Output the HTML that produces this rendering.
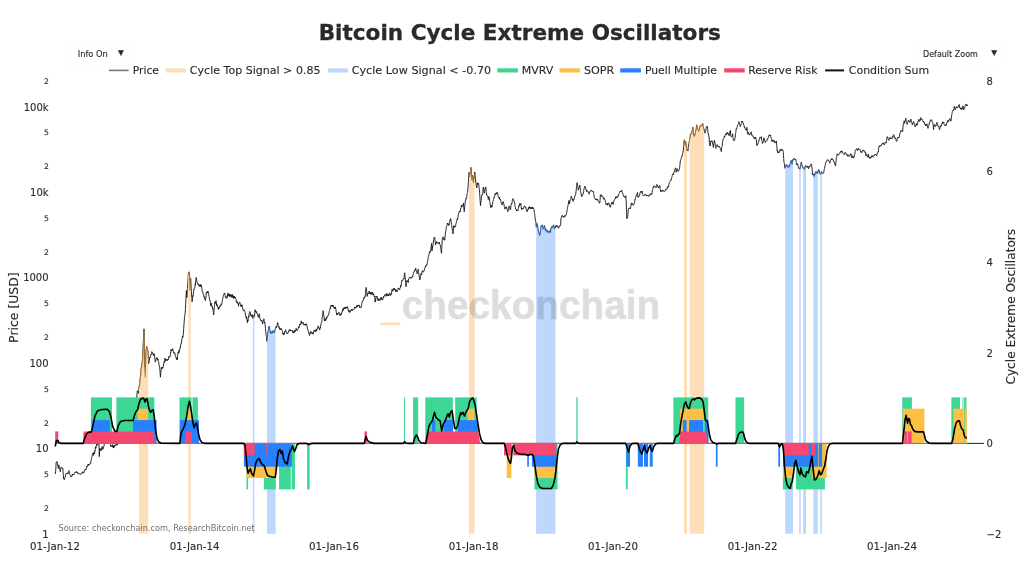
<!DOCTYPE html>
<html lang="en"><head><meta charset="utf-8"><title>Bitcoin Cycle Extreme Oscillators</title>
<style>html,body{margin:0;padding:0;background:#fff}svg{display:block}</style></head>
<body>
<svg width="1024" height="580" viewBox="0 0 1024 580">
<rect width="1024" height="580" fill="#fff"/>
<polyline id="price" points="55.2,474 55.4,473.1 55.6,471.8 55.8,468.4 56,465.1 56.2,462.1 56.3,462.2 56.5,461.7 56.7,461.5 56.9,461.5 57.1,461.8 57.3,462.1 57.5,463.3 57.7,465.5 57.9,466.4 58.1,467.4 58.3,468.5 58.4,467.4 58.6,466.4 58.8,464.9 59,465.9 59.2,466.6 59.4,467.5 59.6,468.1 59.8,469.3 60,470 60.2,470.7 60.4,471.8 60.5,470.2 60.7,469.1 60.9,467.7 61.1,467.2 61.3,467.7 61.5,468 61.7,468.1 61.9,467.9 62.1,467.8 62.3,468.1 62.5,468.7 62.6,469 62.8,468.5 63,471.3 63.2,473.5 63.4,475.6 63.6,478.7 63.8,478.8 64,478.2 64.2,479.3 64.4,479.6 64.6,478.9 64.7,478.6 64.9,477.6 65.1,477 65.3,477 65.5,475.8 65.7,474.8 65.9,474.2 66.1,473.4 66.3,473.1 66.5,472.9 66.7,473.5 66.8,473.1 67,473.3 67.2,473.5 67.4,474 67.6,474 67.8,473.7 68,472.6 68.2,473.1 68.4,473.3 68.6,472.7 68.8,471.4 68.9,470.6 69.1,471.1 69.3,471.8 69.5,472.4 69.7,473.5 69.9,474.7 70.1,475 70.3,475.1 70.5,475.7 70.7,476.3 70.9,476.8 71.1,476.7 71.2,477.1 71.4,476.6 71.6,476 71.8,476.5 72,475.6 72.2,474.8 72.4,474.2 72.6,475 72.8,475 73,474.3 73.2,474.9 73.3,474.8 73.5,474.2 73.7,474.8 73.9,473.9 74.1,473.6 74.3,473.6 74.5,473.4 74.7,473 74.9,472.9 75.1,472.2 75.3,472.5 75.4,472.7 75.6,472.1 75.8,472 76,472.4 76.2,471.8 76.4,471.2 76.6,471.6 76.8,472.4 77,472.6 77.2,472.8 77.4,473.1 77.5,472.5 77.7,473.2 77.9,472.7 78.1,473.5 78.3,474 78.5,473.9 78.7,473.6 78.9,473.4 79.1,473.5 79.3,473.7 79.5,473.9 79.6,473.9 79.8,474.2 80,474.3 80.2,474.3 80.4,474.6 80.6,474.4 80.8,474.4 81,473.6 81.2,473.4 81.4,473.5 81.6,473.6 81.7,473.5 81.9,472.9 82.1,473 82.3,472.7 82.5,471.7 82.7,472.9 82.9,473.3 83.1,473.1 83.3,472.8 83.5,472.6 83.7,472.7 83.8,472.3 84,472 84.2,472.2 84.4,470.6 84.6,470 84.8,469.9 85,469.6 85.2,469.3 85.4,469 85.6,470 85.8,469.9 85.9,469 86.1,469.2 86.3,468.9 86.5,468 86.7,467.2 86.9,466 87.1,466.6 87.3,466.4 87.5,466.2 87.7,465.5 87.9,464.6 88,465.7 88.2,464.7 88.4,465.1 88.6,464.4 88.8,464.9 89,464.8 89.2,464.3 89.4,464.4 89.6,464.4 89.8,464 90,464 90.1,464.1 90.3,463.4 90.5,462.9 90.7,463.2 90.9,460.9 91.1,460.7 91.3,459.4 91.5,458.7 91.7,457.8 91.9,456.7 92.1,455.7 92.2,454.6 92.4,454.5 92.6,454.5 92.8,453.4 93,453 93.2,454.1 93.4,455.5 93.6,454.2 93.8,453.4 94,451.9 94.2,452.8 94.3,452.8 94.5,453.9 94.7,452.6 94.9,450.4 95.1,450.8 95.3,448.7 95.5,447.2 95.7,446.8 95.9,448.3 96.1,446.4 96.3,445.9 96.4,446 96.6,445.1 96.8,445.1 97,443.9 97.2,445.3 97.4,444.5 97.6,443.4 97.8,442.2 98,442.8 98.2,442.3 98.4,440 98.5,438.6 98.7,437.2 98.9,441.8 99.1,448.1 99.3,456.6 99.5,451.7 99.7,448.3 99.9,448.1 100.1,448.3 100.3,449.6 100.5,450.2 100.6,449.9 100.8,450.5 101,449.7 101.2,450.4 101.4,449.9 101.6,449 101.8,447.9 102,448 102.2,446.4 102.4,447.7 102.6,448.1 102.8,449.5 102.9,447.7 103.1,448.3 103.3,447.7 103.5,447.2 103.7,446.6 103.9,446.6 104.1,445.7 104.3,443.2 104.5,442.5 104.7,441.7 104.9,440.3 105,440.3 105.2,441.3 105.4,441.6 105.6,440.2 105.8,441.6 106,441.9 106.2,440.6 106.4,439.5 106.6,439.2 106.8,438.1 107,437.7 107.1,438.6 107.3,439.9 107.5,440.3 107.7,438.9 107.9,439 108.1,439.5 108.3,439.8 108.5,440.9 108.7,440.5 108.9,441.3 109.1,440.4 109.2,442.4 109.4,441.6 109.6,441.7 109.8,443.3 110,442 110.2,441.8 110.4,444.5 110.6,445.9 110.8,446 111,446.9 111.2,446.5 111.3,446.1 111.5,445.8 111.7,445.9 111.9,445 112.1,444.7 112.3,444.7 112.5,447.2 112.7,446.7 112.9,445.7 113.1,446.4 113.3,447.3 113.4,445.7 113.6,447.9 113.8,447.9 114,445.8 114.2,447.1 114.4,446.8 114.6,445.3 114.8,445.8 115,445.6 115.2,445.1 115.4,445.8 115.5,445.8 115.7,445.3 115.9,444.2 116.1,444.1 116.3,444.1 116.5,445 116.7,445.1 116.9,444.1 117.1,443.8 117.3,444.5 117.5,445.1 117.6,442.2 117.8,440.9 118,440 118.2,442.5 118.4,441.8 118.6,441.2 118.8,439.3 119,438.7 119.2,438.7 119.4,438 119.6,439.9 119.7,438.7 119.9,438.2 120.1,438.8 120.3,437.3 120.5,435.3 120.7,436.6 120.9,437.2 121.1,437 121.3,437 121.5,437.6 121.7,438.8 121.8,436.8 122,435.9 122.2,437.3 122.4,438.8 122.6,437.3 122.8,436.4 123,434.7 123.2,434.1 123.4,435.2 123.6,435.1 123.8,437.4 123.9,438.3 124.1,438.4 124.3,437.9 124.5,438.8 124.7,439 124.9,438.6 125.1,438.2 125.3,437.7 125.5,437.5 125.7,437.9 125.9,437.2 126,436.6 126.2,437 126.4,437.2 126.6,436.7 126.8,436.3 127,435.7 127.2,435.2 127.4,434.6 127.6,434.2 127.8,435 128,433.8 128.1,431.9 128.3,430.6 128.5,429.9 128.7,428.6 128.9,428.8 129.1,429.9 129.3,429 129.5,429.1 129.7,427.5 129.9,427 130.1,428 130.2,427.4 130.4,424.1 130.6,422.8 130.8,422.6 131,421.7 131.2,420.9 131.4,420.2 131.6,419.8 131.8,418 132,417.1 132.2,416.8 132.3,416 132.5,414.1 132.7,412.8 132.9,411.6 133.1,412.4 133.3,412.4 133.5,411.4 133.7,411.5 133.9,410.4 134.1,409.8 134.3,408.8 134.5,409.1 134.6,406.5 134.8,405.2 135,405.4 135.2,405.3 135.4,402.7 135.6,403.1 135.8,402.2 136,401.2 136.2,401.2 136.4,402.4 136.6,400.4 136.7,398.2 136.9,395.3 137.1,392.7 137.3,390.9 137.5,390.8 137.7,391 137.9,391.6 138.1,392.3 138.3,393.3 138.5,393.3 138.7,392.1 138.8,390.4 139,388.1 139.2,387.3 139.4,385.4 139.6,385.2 139.8,383.5 140,380.6 140.2,378.5 140.4,377 140.6,375.7 140.8,375.6 140.9,372.2 141.1,370.1 141.3,367.4 141.5,366.8 141.7,365.6 141.9,366 142.1,363.8 142.3,361.4 142.5,359.7 142.7,356.1 142.9,351.8 143,349.9 143.2,346 143.4,341.4 143.6,336.3 143.8,332 144,328.9 144.2,346.1 144.4,362.9 144.6,366.3 144.8,368.8 145,371.8 145.1,377.2 145.3,371.4 145.5,366.1 145.7,360.9 145.9,354.6 146.1,352 146.3,348.9 146.5,348 146.7,346.6 146.9,347.2 147.1,348 147.2,348.9 147.4,349.5 147.6,350.8 147.8,350.7 148,354.5 148.2,358.8 148.4,363.6 148.6,362.2 148.8,363.3 149,362.6 149.2,360.9 149.3,360.8 149.5,358.9 149.7,357.1 149.9,357.9 150.1,357.6 150.3,357.3 150.5,356.3 150.7,355.1 150.9,354.5 151.1,354.8 151.3,354.4 151.4,353.9 151.6,352.5 151.8,351.7 152,351.8 152.2,352.6 152.4,352.4 152.6,352.6 152.8,354 153,354.3 153.2,355.1 153.4,355.2 153.5,354.9 153.7,355.6 153.9,353.5 154.1,354.8 154.3,354.7 154.5,355.7 154.7,355.6 154.9,359.1 155.1,360.9 155.3,361.7 155.5,362.1 155.6,360.7 155.8,360.6 156,359.5 156.2,358.9 156.4,358.1 156.6,357.8 156.8,358.2 157,357.8 157.2,359.1 157.4,358.1 157.6,359.4 157.7,360.2 157.9,359.1 158.1,360.4 158.3,361.4 158.5,361.3 158.7,362.3 158.9,364.2 159.1,365 159.3,365.5 159.5,365.8 159.7,367.6 159.8,369.2 160,370.8 160.2,374.1 160.4,377.2 160.6,375.8 160.8,372.6 161,371.5 161.2,369 161.4,367.6 161.6,368.6 161.8,368.2 161.9,367.1 162.1,367.4 162.3,368.4 162.5,367.8 162.7,368.2 162.9,368.1 163.1,366.9 163.3,366 163.5,366 163.7,363.2 163.9,362.7 164.1,361.4 164.2,361.5 164.4,361.1 164.6,362.4 164.8,360 165,358.1 165.2,358.9 165.4,359.9 165.6,361.1 165.8,359.6 166,359.7 166.2,359.5 166.3,359.5 166.5,359.3 166.7,360.1 166.9,359.8 167.1,360.9 167.3,360.7 167.5,360.1 167.7,359.3 167.9,359.2 168.1,359.8 168.3,359.4 168.4,359.5 168.6,357.6 168.8,356.4 169,356.2 169.2,356.3 169.4,356.7 169.6,357.3 169.8,357.3 170,356.7 170.2,355.8 170.4,354.9 170.5,352.4 170.7,352.8 170.9,352.4 171.1,349.2 171.3,350.8 171.5,351 171.7,350.7 171.9,350.5 172.1,350 172.3,350.1 172.5,349.7 172.6,349.6 172.8,348.7 173,350.6 173.2,351.4 173.4,351.3 173.6,352.3 173.8,353.3 174,352.6 174.2,353.2 174.4,353.1 174.6,352.8 174.7,353.1 174.9,353.1 175.1,353.7 175.3,355.7 175.5,356.3 175.7,356.4 175.9,357.5 176.1,358.1 176.3,357.9 176.5,359.3 176.7,359.2 176.8,357.8 177,359 177.2,359.3 177.4,360 177.6,356.3 177.8,353.7 178,352.4 178.2,352.7 178.4,352.3 178.6,351.9 178.8,353.3 178.9,351.4 179.1,350.1 179.3,351.5 179.5,350.3 179.7,350 179.9,349.1 180.1,347.5 180.3,347.9 180.5,346.9 180.7,344.1 180.9,343.5 181,343.4 181.2,343.5 181.4,343.6 181.6,342 181.8,339.1 182,338.7 182.2,338.4 182.4,336.1 182.6,336.7 182.8,337.4 183,336.8 183.1,336.3 183.3,334.1 183.5,332.1 183.7,328.6 183.9,325.1 184.1,323.2 184.3,320.2 184.5,317.5 184.7,315.7 184.9,314.4 185.1,313.1 185.2,312.1 185.4,309.7 185.6,304.7 185.8,301.5 186,297.1 186.2,294.3 186.4,290.7 186.6,294.6 186.8,297.7 187,295.4 187.2,292.7 187.3,289.7 187.5,288.5 187.7,285.8 187.9,282.4 188.1,277.9 188.3,275 188.5,273 188.7,272.9 188.9,272.6 189.1,273.1 189.3,272.1 189.4,272.3 189.6,278.5 189.8,283.6 190,290.7 190.2,287.3 190.4,283.2 190.6,278.2 190.8,281.7 191,284.6 191.2,288.5 191.4,291.5 191.5,293 191.7,297 191.9,297.8 192.1,301.8 192.3,300.2 192.5,298.5 192.7,295.9 192.9,295.7 193.1,296.3 193.3,294.1 193.5,291.8 193.6,291.5 193.8,289.1 194,289.2 194.2,289.3 194.4,288.6 194.6,288.6 194.8,287.2 195,286 195.2,283.8 195.4,284.9 195.6,281.5 195.8,279.4 195.9,279.1 196.1,277.5 196.3,278.2 196.5,279 196.7,280.2 196.9,281.7 197.1,283 197.3,282.9 197.5,283.5 197.7,283.8 197.9,284.4 198,283.9 198.2,283.7 198.4,284.3 198.6,284 198.8,284.5 199,286.1 199.2,285 199.4,284.9 199.6,286 199.8,285.1 200,285 200.1,286.8 200.3,285.3 200.5,285.2 200.7,284.5 200.9,284.4 201.1,284.8 201.3,286.6 201.5,285.8 201.7,287.1 201.9,288.8 202.1,289.8 202.2,291.1 202.4,291.8 202.6,292 202.8,291.8 203,293.8 203.2,294.1 203.4,294.5 203.6,294.3 203.8,295.8 204,297 204.2,296.6 204.3,298 204.5,298.4 204.7,297.8 204.9,298.9 205.1,298.8 205.3,300.7 205.5,299.6 205.7,298.8 205.9,297.9 206.1,295.8 206.3,292.5 206.4,292.4 206.6,292.8 206.8,292.2 207,293.1 207.2,292.5 207.4,291.8 207.6,292 207.8,291.3 208,292.8 208.2,291.8 208.4,293.3 208.5,293.9 208.7,294.3 208.9,296.1 209.1,296.5 209.3,297.8 209.5,299.5 209.7,300.3 209.9,300 210.1,301.3 210.3,302.2 210.5,302.3 210.6,303.3 210.8,306 211,304.7 211.2,303 211.4,305.6 211.6,306.3 211.8,306.4 212,306 212.2,305.9 212.4,306.7 212.6,308.4 212.7,308.9 212.9,308.4 213.1,310.1 213.3,311.7 213.5,312.3 213.7,314.9 213.9,312.6 214.1,310.5 214.3,307.4 214.5,305.6 214.7,303.9 214.8,301.8 215,302.1 215.2,303.1 215.4,303.5 215.6,303 215.8,302.1 216,300.7 216.2,301.9 216.4,302.6 216.6,305.5 216.8,303.9 216.9,305 217.1,305.3 217.3,305.1 217.5,306.8 217.7,306.7 217.9,306.8 218.1,308.8 218.3,308.6 218.5,307.5 218.7,309.5 218.9,308.8 219,308.7 219.2,308.3 219.4,307.9 219.6,306.6 219.8,306.7 220,305.8 220.2,306.2 220.4,305.4 220.6,306.1 220.8,306.2 221,304.4 221.1,303.8 221.3,304 221.5,304.5 221.7,304.6 221.9,303.8 222.1,302.2 222.3,301.1 222.5,299.9 222.7,299.3 222.9,297.3 223.1,297 223.2,296.9 223.4,295.4 223.6,294.6 223.8,294.4 224,294.4 224.2,294.1 224.4,292.9 224.6,293.1 224.8,294.8 225,294.9 225.2,295.3 225.3,296.8 225.5,296.5 225.7,297.3 225.9,298.2 226.1,297.9 226.3,297.1 226.5,297.8 226.7,297.4 226.9,298.3 227.1,295.9 227.3,296.5 227.5,295.3 227.6,295.9 227.8,295.1 228,292.9 228.2,295.5 228.4,296 228.6,295.5 228.8,295.6 229,296.3 229.2,294.1 229.4,294.1 229.6,295.7 229.7,294.8 229.9,296.5 230.1,295.3 230.3,295.9 230.5,295.7 230.7,294.4 230.9,294.3 231.1,295.6 231.3,297.4 231.5,296.1 231.7,295.3 231.8,296.1 232,295.2 232.2,295 232.4,294.5 232.6,297.1 232.8,297.6 233,297 233.2,296.5 233.4,295.8 233.6,298.5 233.8,298.6 233.9,298.4 234.1,296 234.3,297.2 234.5,297.8 234.7,298 234.9,297.3 235.1,298 235.3,297.1 235.5,298.2 235.7,298.3 235.9,299.1 236,299.3 236.2,300.3 236.4,302.3 236.6,301.5 236.8,301.5 237,302.4 237.2,302.5 237.4,301.8 237.6,303.2 237.8,303.6 238,303.4 238.1,303.1 238.3,303.8 238.5,306.3 238.7,304.5 238.9,303.6 239.1,303.1 239.3,302.8 239.5,302 239.7,302 239.9,302.5 240.1,303.2 240.2,303.8 240.4,304.5 240.6,305.7 240.8,305 241,306.3 241.2,305.7 241.4,306.7 241.6,306.3 241.8,304.9 242,304.7 242.2,305.9 242.3,306.2 242.5,306.5 242.7,308.7 242.9,309.7 243.1,309.9 243.3,310.8 243.5,311.1 243.7,310.8 243.9,310.4 244.1,309.9 244.3,309.7 244.4,310.4 244.6,310.8 244.8,311.5 245,312.2 245.2,312.8 245.4,315 245.6,315.7 245.8,316.1 246,317.6 246.2,318 246.4,317.9 246.5,318.4 246.7,316.7 246.9,319.8 247.1,320.4 247.3,322.7 247.5,322.1 247.7,319.8 247.9,321.2 248.1,320 248.3,318.3 248.5,317.5 248.6,315.9 248.8,317.1 249,315.1 249.2,313.6 249.4,312.5 249.6,312 249.8,311.5 250,312.2 250.2,312.2 250.4,312.9 250.6,315.4 250.7,315.7 250.9,315.7 251.1,315.1 251.3,316.2 251.5,316.4 251.7,316.3 251.9,316.7 252.1,316 252.3,314.5 252.5,315.9 252.7,318.4 252.8,318.1 253,317.1 253.2,316.6 253.4,316.3 253.6,317.5 253.8,317.3 254,315.4 254.2,315.4 254.4,316.3 254.6,316.4 254.8,312.9 254.9,309.9 255.1,309.7 255.3,310.8 255.5,310.9 255.7,312 255.9,311 256.1,311.4 256.3,312.8 256.5,311.8 256.7,312.8 256.9,312.9 257.1,313.2 257.2,313.9 257.4,313.9 257.6,313.9 257.8,315.1 258,316.6 258.2,317.2 258.4,317.3 258.6,316.6 258.8,315.9 259,314.6 259.2,313.8 259.3,313.9 259.5,315.2 259.7,318 259.9,318.8 260.1,318.9 260.3,319 260.5,319.7 260.7,320.5 260.9,320.2 261.1,320.8 261.3,320.6 261.4,320.7 261.6,321.1 261.8,320.3 262,321.2 262.2,321.9 262.4,323 262.6,324.1 262.8,322.8 263,321.2 263.2,321.5 263.4,321.2 263.5,320.3 263.7,319.7 263.9,318.8 264.1,320.3 264.3,322 264.5,322.5 264.7,322 264.9,322.9 265.1,324.7 265.3,326.1 265.5,328.5 265.6,331.1 265.8,331.9 266,334.3 266.2,336.2 266.4,336.4 266.6,337.5 266.8,339.1 267,341.5 267.2,339.8 267.4,337.2 267.6,335.4 267.7,333.6 267.9,332.6 268.1,331.4 268.3,330.7 268.5,329.5 268.7,327.7 268.9,327.9 269.1,327.1 269.3,326.1 269.5,328 269.7,329.7 269.8,330.6 270,330.6 270.2,331.6 270.4,332.8 270.6,333.8 270.8,332.2 271,332 271.2,331.8 271.4,332.5 271.6,332.4 271.8,333 271.9,332.8 272.1,332.3 272.3,332.1 272.5,331.7 272.7,332.2 272.9,330.9 273.1,331.2 273.3,332.2 273.5,332 273.7,332.2 273.9,332.5 274,332.4 274.2,331.8 274.4,332.3 274.6,332 274.8,330.5 275,329.6 275.2,329.3 275.4,328.8 275.6,328.5 275.8,328.2 276,327 276.1,326.4 276.3,327.6 276.5,327 276.7,327 276.9,325.9 277.1,325.7 277.3,324.9 277.5,322.6 277.7,322.8 277.9,323.3 278.1,324.1 278.2,325.6 278.4,326.7 278.6,326.1 278.8,326.3 279,327.4 279.2,328.3 279.4,327.5 279.6,328.7 279.8,329.6 280,330 280.2,329.6 280.3,328.8 280.5,328.6 280.7,329.2 280.9,329.7 281.1,328.9 281.3,328.5 281.5,329.4 281.7,329.7 281.9,329.7 282.1,329.9 282.3,330.6 282.4,331.8 282.6,332.5 282.8,334 283,333.3 283.2,333.1 283.4,334.3 283.6,333.5 283.8,333.1 284,334.8 284.2,333.7 284.4,332.9 284.5,331.3 284.7,332.1 284.9,331.6 285.1,331.2 285.3,330.9 285.5,330.7 285.7,329.8 285.9,330.8 286.1,331.7 286.3,332.7 286.5,333.1 286.6,333.5 286.8,333.2 287,332.9 287.2,332.9 287.4,333.4 287.6,333.7 287.8,332.9 288,332.3 288.2,332.2 288.4,332.4 288.6,331.2 288.8,331.6 288.9,331 289.1,330.1 289.3,330.3 289.5,329.7 289.7,330.5 289.9,329.8 290.1,329.6 290.3,330.8 290.5,330.3 290.7,331 290.9,330 291,330.5 291.2,330.6 291.4,330.4 291.6,330.7 291.8,330.5 292,330.9 292.2,330.4 292.4,330.5 292.6,330.3 292.8,332.5 293,331.6 293.1,331.7 293.3,333.1 293.5,333 293.7,332.7 293.9,331.9 294.1,332.8 294.3,331.7 294.5,332 294.7,330.2 294.9,330.4 295.1,330 295.2,330.4 295.4,331.4 295.6,330.6 295.8,330 296,328.9 296.2,328.4 296.4,328.9 296.6,329.9 296.8,330.2 297,330.4 297.2,330.8 297.3,330 297.5,329.5 297.7,329.5 297.9,329.1 298.1,328.9 298.3,328.5 298.5,327.6 298.7,326.6 298.9,326.9 299.1,327.7 299.3,326.2 299.4,325.6 299.6,324.3 299.8,325.1 300,324.9 300.2,324.4 300.4,325 300.6,325 300.8,323.9 301,322.6 301.2,320.9 301.4,321.8 301.5,323.1 301.7,322.9 301.9,322.4 302.1,322.4 302.3,323.6 302.5,323.2 302.7,322.8 302.9,322.6 303.1,323.2 303.3,323.2 303.5,322.8 303.6,323.4 303.8,325 304,324.9 304.2,324.7 304.4,324.8 304.6,324.3 304.8,324.9 305,325.1 305.2,325.5 305.4,325.2 305.6,324.1 305.7,324.4 305.9,323.9 306.1,323.7 306.3,324.1 306.5,324.6 306.7,324.2 306.9,325.4 307.1,326.4 307.3,328.2 307.5,328.9 307.7,328.8 307.8,329.4 308,330.1 308.2,331.2 308.4,331.5 308.6,332.9 308.8,332.5 309,333.2 309.2,334.4 309.4,335.4 309.6,335.5 309.8,334.4 309.9,333.1 310.1,333.7 310.3,332.5 310.5,331.4 310.7,331.3 310.9,332 311.1,332.3 311.3,332.5 311.5,332 311.7,332 311.9,333.3 312,332.8 312.2,333.7 312.4,332.8 312.6,333.4 312.8,333.7 313,334.1 313.2,334.2 313.4,332.9 313.6,332 313.8,331.1 314,330.3 314.1,331.1 314.3,331 314.5,330.9 314.7,331.2 314.9,330.3 315.1,330.4 315.3,330.5 315.5,330.8 315.7,331.9 315.9,331 316.1,329.5 316.2,328.9 316.4,329.1 316.6,330.7 316.8,330.6 317,329.7 317.2,329.5 317.4,328.8 317.6,327.7 317.8,326.9 318,327.2 318.2,326.4 318.3,325.9 318.5,327.1 318.7,327.4 318.9,328.5 319.1,328.6 319.3,328.2 319.5,328.8 319.7,330.1 319.9,328.9 320.1,328.4 320.3,327 320.5,327.8 320.6,326.8 320.8,324.9 321,323.2 321.2,323.1 321.4,322.7 321.6,322.5 321.8,321.5 322,319.3 322.2,317.7 322.4,317.3 322.6,315.3 322.7,314.2 322.9,312.2 323.1,310.6 323.3,311.3 323.5,312.4 323.7,314.7 323.9,316.3 324.1,316.9 324.3,319.3 324.5,320.9 324.7,320.1 324.8,319.1 325,318.8 325.2,319.8 325.4,320.8 325.6,320.7 325.8,320.4 326,318.5 326.2,319.2 326.4,317.8 326.6,316.8 326.8,317.6 326.9,317.7 327.1,317.1 327.3,317 327.5,316.7 327.7,315.9 327.9,316 328.1,315.2 328.3,315.2 328.5,315.1 328.7,314.1 328.9,314.1 329,313.3 329.2,311.6 329.4,311 329.6,310.6 329.8,309.5 330,309.3 330.2,307.9 330.4,308.4 330.6,306.9 330.8,306.3 331,305.9 331.1,305.1 331.3,306.3 331.5,305.5 331.7,305.6 331.9,305 332.1,306.3 332.3,306 332.5,305.4 332.7,306 332.9,306.7 333.1,305.3 333.2,305.7 333.4,306.6 333.6,307.6 333.8,307.8 334,308.1 334.2,308.5 334.4,307.5 334.6,308.1 334.8,308.1 335,307.3 335.2,308.4 335.3,307.9 335.5,306.9 335.7,308.4 335.9,309.7 336.1,310.9 336.3,312.8 336.5,312.9 336.7,314.8 336.9,314.9 337.1,313.3 337.3,314.1 337.4,313.9 337.6,314.9 337.8,313.9 338,314 338.2,313.8 338.4,313.3 338.6,312.4 338.8,312.2 339,312.3 339.2,312.8 339.4,312.8 339.5,313.7 339.7,313.8 339.9,315.3 340.1,315.8 340.3,314.4 340.5,314.4 340.7,314.7 340.9,313.8 341.1,313.8 341.3,314.4 341.5,314.3 341.6,313 341.8,312.1 342,311.4 342.2,311.5 342.4,311.6 342.6,309.9 342.8,309 343,309 343.2,310 343.4,310.3 343.6,307.8 343.7,307.9 343.9,307.8 344.1,307.5 344.3,307.5 344.5,307.5 344.7,308.4 344.9,309.1 345.1,307.6 345.3,308 345.5,307.2 345.7,308.4 345.8,308.4 346,308.1 346.2,307.1 346.4,307.8 346.6,307.2 346.8,306.8 347,307.2 347.2,306.7 347.4,307.2 347.6,307.7 347.8,307.5 347.9,309.5 348.1,309.4 348.3,310 348.5,311.2 348.7,311.6 348.9,311.1 349.1,311.5 349.3,310.6 349.5,311.5 349.7,312.6 349.9,311.5 350.1,311.2 350.2,310.6 350.4,311.3 350.6,310.7 350.8,310.6 351,310.2 351.2,310.2 351.4,309.4 351.6,309.9 351.8,310.1 352,310.8 352.2,309.3 352.3,309.4 352.5,309.6 352.7,309.8 352.9,309.6 353.1,310.1 353.3,309.8 353.5,309.7 353.7,309.6 353.9,309.8 354.1,309.2 354.3,309.1 354.4,308.4 354.6,307.7 354.8,306.9 355,308.1 355.2,307.9 355.4,308.1 355.6,307.1 355.8,307.9 356,308 356.2,307.9 356.4,307.7 356.5,306.5 356.7,306.4 356.9,305.3 357.1,306 357.3,307 357.5,306 357.7,305.7 357.9,305.4 358.1,305.3 358.3,305 358.5,306 358.6,305.3 358.8,305.7 359,305 359.2,305 359.4,306.5 359.6,307.5 359.8,306.7 360,306.8 360.2,307.2 360.4,307 360.6,307.4 360.7,307.8 360.9,307.8 361.1,307.6 361.3,306.4 361.5,306.3 361.7,304.7 361.9,303.3 362.1,301.9 362.3,301 362.5,300.8 362.7,300.7 362.8,300.7 363,300.7 363.2,300.3 363.4,300.3 363.6,298.5 363.8,297.6 364,297.4 364.2,298.4 364.4,297.9 364.6,297.7 364.8,297.1 364.9,296.5 365.1,296.8 365.3,295 365.5,293.6 365.7,290.2 365.9,288.8 366.1,287.4 366.3,288.1 366.5,289.8 366.7,291.5 366.9,293.5 367,295.8 367.2,296.4 367.4,295.4 367.6,293.9 367.8,293.9 368,293.6 368.2,294 368.4,293 368.6,293.9 368.8,293.2 369,292.1 369.1,291.2 369.3,292.1 369.5,291.5 369.7,292.2 369.9,293 370.1,294.2 370.3,293.5 370.5,292.4 370.7,293.1 370.9,293.9 371.1,294.3 371.2,292.6 371.4,292 371.6,292.6 371.8,294 372,294.5 372.2,293.6 372.4,292.2 372.6,292.4 372.8,292.9 373,293.3 373.2,294.8 373.3,294.1 373.5,294.9 373.7,294.1 373.9,295.4 374.1,296.4 374.3,296.2 374.5,296.7 374.7,296.1 374.9,296.1 375.1,302.1 375.3,301 375.4,299.7 375.6,300.6 375.8,298.6 376,297.5 376.2,296.3 376.4,297.1 376.6,297.1 376.8,297.3 377,296.4 377.2,297.4 377.4,298 377.5,299.5 377.7,299.6 377.9,299.3 378.1,300.5 378.3,300.9 378.5,300.4 378.7,299.1 378.9,298.5 379.1,298.7 379.3,299.5 379.5,300.2 379.6,300.6 379.8,300.4 380,300.4 380.2,299 380.4,298.7 380.6,299.5 380.8,298.2 381,297.4 381.2,297.1 381.4,297.6 381.6,298.9 381.8,299.5 381.9,298.7 382.1,299.2 382.3,300 382.5,299.8 382.7,299.4 382.9,298.8 383.1,298.2 383.3,297 383.5,297.5 383.7,296.6 383.9,297.2 384,296.5 384.2,296.3 384.4,296 384.6,295.3 384.8,295.5 385,294.7 385.2,294.2 385.4,294.2 385.6,294.7 385.8,295.4 386,295.9 386.1,296.2 386.3,296.3 386.5,294.2 386.7,293.8 386.9,293.3 387.1,294.1 387.3,294.7 387.5,295.1 387.7,295.1 387.9,296 388.1,294.9 388.2,295.4 388.4,294.3 388.6,295.8 388.8,295.5 389,294.9 389.2,294.5 389.4,293.7 389.6,293.2 389.8,292.8 390,293.9 390.2,294.2 390.3,295.6 390.5,294.9 390.7,294.3 390.9,294.2 391.1,294.5 391.3,294.6 391.5,292.9 391.7,291.3 391.9,290.8 392.1,289.3 392.3,290.1 392.4,291.1 392.6,291 392.8,291.2 393,291.1 393.2,290.5 393.4,288.4 393.6,289.2 393.8,289.5 394,289.5 394.2,289.8 394.4,289.4 394.5,288.3 394.7,289.6 394.9,289.7 395.1,290.2 395.3,289.4 395.5,290 395.7,290.8 395.9,292 396.1,291.1 396.3,290.4 396.5,289.8 396.6,291 396.8,290.8 397,290.8 397.2,291.3 397.4,291.5 397.6,290.4 397.8,289.4 398,288.9 398.2,287.9 398.4,288.5 398.6,288.6 398.7,288.8 398.9,288.5 399.1,288.7 399.3,289 399.5,289.2 399.7,289.9 399.9,288.3 400.1,288.1 400.3,287.9 400.5,286.3 400.7,285.4 400.8,286.7 401,285.8 401.2,284.7 401.4,282.9 401.6,281.4 401.8,280.4 402,280.9 402.2,281.2 402.4,280.6 402.6,279.8 402.8,280.1 402.9,280 403.1,279.8 403.3,279.3 403.5,278.6 403.7,278.4 403.9,278.9 404.1,277.5 404.3,275.4 404.5,274.5 404.7,272.8 404.9,274.6 405,276.3 405.2,278 405.4,280.8 405.6,282.5 405.8,283.9 406,286.7 406.2,285.2 406.4,283.7 406.6,282.3 406.8,280.8 407,280.2 407.1,280.5 407.3,281 407.5,281.7 407.7,281.6 407.9,281.6 408.1,281 408.3,282.5 408.5,280.6 408.7,278.8 408.9,278.7 409.1,278.1 409.2,277.7 409.4,277.4 409.6,277.5 409.8,277.5 410,278.1 410.2,277.9 410.4,277.8 410.6,277.5 410.8,278.1 411,278 411.2,277.9 411.3,277.4 411.5,278.2 411.7,277.8 411.9,277 412.1,276.5 412.3,276.7 412.5,277 412.7,277.1 412.9,276 413.1,274.1 413.3,273.7 413.5,273.5 413.6,272.6 413.8,271.9 414,271.9 414.2,271.9 414.4,271.4 414.6,270.2 414.8,270.5 415,270.6 415.2,269.6 415.4,269.9 415.6,269.1 415.7,268.2 415.9,268.9 416.1,270.3 416.3,271 416.5,271.9 416.7,272.2 416.9,273.5 417.1,273.3 417.3,273.8 417.5,273.1 417.7,272.3 417.8,270.8 418,270.4 418.2,269.2 418.4,271.3 418.6,272.4 418.8,272.6 419,274.6 419.2,275.9 419.4,278.2 419.6,279.1 419.8,279.8 419.9,279.1 420.1,279.3 420.3,278.3 420.5,276.7 420.7,275.2 420.9,273.9 421.1,274.6 421.3,274.5 421.5,273.4 421.7,274.3 421.9,273.4 422,272 422.2,271.4 422.4,270.5 422.6,270.8 422.8,271.7 423,271.8 423.2,271.9 423.4,272 423.6,271.4 423.8,271.5 424,271.4 424.1,270.7 424.3,270.3 424.5,268.6 424.7,267.9 424.9,267.5 425.1,267.3 425.3,267.4 425.5,266 425.7,265.6 425.9,266 426.1,266.1 426.2,265.9 426.4,265.9 426.6,264.7 426.8,265.2 427,264.5 427.2,263.1 427.4,262.8 427.6,261.5 427.8,260.3 428,258.7 428.2,257.8 428.3,256.3 428.5,256.3 428.7,255.9 428.9,254.8 429.1,253.5 429.3,252.9 429.5,252.9 429.7,251.5 429.9,252.6 430.1,252.7 430.3,251.6 430.4,250.6 430.6,250.9 430.8,250.7 431,247.9 431.2,246.2 431.4,245.2 431.6,243.5 431.8,245.9 432,250.9 432.2,248.9 432.4,247.3 432.5,247.8 432.7,246.1 432.9,246.3 433.1,244.4 433.3,243 433.5,240.1 433.7,239.5 433.9,238.4 434.1,237.2 434.3,237.4 434.5,237.6 434.6,237.5 434.8,237.3 435,240 435.2,241.6 435.4,243.1 435.6,245 435.8,243.5 436,243.5 436.2,242.3 436.4,242.5 436.6,241.6 436.7,242.9 436.9,242.5 437.1,242.4 437.3,242.5 437.5,242.8 437.7,242.5 437.9,242.6 438.1,243.8 438.3,243.7 438.5,243.7 438.7,243.6 438.8,243.9 439,243.5 439.2,242.4 439.4,242.1 439.6,243.8 439.8,244 440,244.6 440.2,245.2 440.4,245.7 440.6,247.2 440.8,248.6 440.9,249.1 441.1,250.9 441.3,252.3 441.5,253.3 441.7,249.5 441.9,246.3 442.1,242 442.3,238.7 442.5,238.3 442.7,237.6 442.9,237.2 443.1,236.8 443.2,237.9 443.4,239 443.6,239.6 443.8,239.4 444,238.4 444.2,239.5 444.4,239.4 444.6,240.3 444.8,239.2 445,237.8 445.2,235.6 445.3,233.8 445.5,232 445.7,231.8 445.9,230.2 446.1,228.6 446.3,227.6 446.5,226.3 446.7,225.8 446.9,225.7 447.1,225.1 447.3,224.7 447.4,223.1 447.6,224.1 447.8,223.5 448,224 448.2,224.3 448.4,224.4 448.6,225.6 448.8,224.5 449,223.8 449.2,224.6 449.4,223.7 449.5,222.8 449.7,222.1 449.9,220.4 450.1,220.4 450.3,219.5 450.5,218.6 450.7,219.8 450.9,219.4 451.1,221 451.3,222.5 451.5,223 451.6,224.8 451.8,225.8 452,227.9 452.2,228.8 452.4,230.5 452.6,231.2 452.8,233.2 453,233.8 453.2,231.9 453.4,229.8 453.6,227.8 453.7,225.6 453.9,226.1 454.1,227.5 454.3,226.9 454.5,227.1 454.7,226.9 454.9,226 455.1,227 455.3,226.5 455.5,225.9 455.7,225.6 455.8,224.2 456,223.2 456.2,222.7 456.4,222.7 456.6,221.3 456.8,221 457,219.8 457.2,218.7 457.4,219.4 457.6,219.4 457.8,218.6 457.9,217.6 458.1,216.2 458.3,214.8 458.5,213.3 458.7,213.3 458.9,213.1 459.1,212.2 459.3,212.2 459.5,211.1 459.7,212 459.9,211.2 460,211 460.2,211.7 460.4,210 460.6,208.9 460.8,208 461,207.9 461.2,207.4 461.4,205.3 461.6,205.1 461.8,206.9 462,206.6 462.1,206.7 462.3,206.2 462.5,205.9 462.7,206 462.9,206 463.1,204.6 463.3,205.1 463.5,203 463.7,205.5 463.9,208.5 464.1,210 464.2,211.7 464.4,210.1 464.6,207.2 464.8,206.2 465,204.5 465.2,201.3 465.4,200.8 465.6,201.1 465.8,200.1 466,198.7 466.2,198 466.3,198.7 466.5,198.3 466.7,197.3 466.9,195.8 467.1,193.6 467.3,192.9 467.5,192.5 467.7,191.2 467.9,188.9 468.1,186.6 468.3,182.7 468.4,181.8 468.6,178.2 468.8,175.8 469,172.4 469.2,173.3 469.4,175.6 469.6,177.1 469.8,175.4 470,173.6 470.2,172.8 470.4,172.2 470.5,172.2 470.7,168.8 470.9,167.5 471.1,170.2 471.3,173.9 471.5,175.8 471.7,178.7 471.9,180.2 472.1,178.3 472.3,177.2 472.5,175.4 472.6,175.1 472.8,176.9 473,178.9 473.2,181.4 473.4,182.9 473.6,181.1 473.8,178 474,178.6 474.2,177.2 474.4,175.9 474.6,174.3 474.8,172 474.9,173.6 475.1,175.5 475.3,177.8 475.5,179.3 475.7,181 475.9,183 476.1,183.8 476.3,185.4 476.5,186.9 476.7,187.4 476.9,187.9 477,185.9 477.2,184.7 477.4,182.9 477.6,184.2 477.8,184.4 478,184.4 478.2,183.5 478.4,183.1 478.6,184.2 478.8,185 479,186.3 479.1,188.1 479.3,188.6 479.5,190.1 479.7,193.8 479.9,196.8 480.1,200.6 480.3,202.9 480.5,205.6 480.7,204.1 480.9,201.6 481.1,201 481.2,200.4 481.4,197.7 481.6,195.9 481.8,195 482,195 482.2,194.7 482.4,195 482.6,193.5 482.8,191.9 483,189.6 483.2,188.2 483.3,187.2 483.5,188.9 483.7,188.6 483.9,191.1 484.1,192.1 484.3,193.2 484.5,191.9 484.7,191.4 484.9,190.2 485.1,188.8 485.3,188.1 485.4,187.7 485.6,187 485.8,186.9 486,189.2 486.2,191.6 486.4,193.7 486.6,194.8 486.8,194.4 487,195.4 487.2,195.6 487.4,196 487.5,196.1 487.7,196.7 487.9,197.2 488.1,198.2 488.3,199.5 488.5,198.5 488.7,197.2 488.9,196.4 489.1,197.1 489.3,197.8 489.5,199.1 489.6,201.5 489.8,201.9 490,202.8 490.2,204.2 490.4,205.9 490.6,205.9 490.8,207.6 491,206.7 491.2,206.6 491.4,205.1 491.6,206.1 491.7,206.5 491.9,207.2 492.1,205.9 492.3,204.9 492.5,204.3 492.7,202.2 492.9,201.6 493.1,200.8 493.3,199.7 493.5,199.4 493.7,199.1 493.8,198.1 494,197.7 494.2,198 494.4,197.3 494.6,196.8 494.8,194.8 495,195 495.2,193.5 495.4,193.4 495.6,194 495.8,194.5 495.9,194.5 496.1,194.2 496.3,193.1 496.5,193.8 496.7,193.1 496.9,192.6 497.1,192.2 497.3,193.1 497.5,192.7 497.7,193.8 497.9,194.6 498,195.9 498.2,196.5 498.4,196.7 498.6,196.9 498.8,198.1 499,197.9 499.2,197.3 499.4,198.5 499.6,197.9 499.8,199.4 500,199.5 500.1,199.6 500.3,199 500.5,199.3 500.7,200.1 500.9,201.3 501.1,202.7 501.3,202.7 501.5,203.4 501.7,204.4 501.9,204.5 502.1,204.8 502.2,204.8 502.4,204.9 502.6,203.3 502.8,201.9 503,201.7 503.2,202.6 503.4,202 503.6,203.1 503.8,203.9 504,204.6 504.2,206 504.3,206.4 504.5,206.9 504.7,207.8 504.9,209.2 505.1,209 505.3,207.8 505.5,208 505.7,207.4 505.9,207.4 506.1,207.8 506.3,206.7 506.5,207.3 506.6,207.8 506.8,207.7 507,209.4 507.2,210 507.4,210.4 507.6,210.3 507.8,211.7 508,210.9 508.2,210.5 508.4,209.2 508.6,208.2 508.7,207.5 508.9,206 509.1,206.2 509.3,206.7 509.5,207.1 509.7,208 509.9,208.2 510.1,209.8 510.3,210 510.5,209.8 510.7,208 510.8,207.2 511,205.1 511.2,204.5 511.4,203.5 511.6,204.1 511.8,203.8 512,203.5 512.2,201.4 512.4,200.2 512.6,200.1 512.8,198.8 512.9,198.6 513.1,198.9 513.3,199 513.5,199.3 513.7,199.9 513.9,201.4 514.1,201.6 514.3,201.8 514.5,201.8 514.7,203.2 514.9,204.9 515,206.3 515.2,206.7 515.4,207.6 515.6,209.2 515.8,209.1 516,209.3 516.2,209.1 516.4,209.5 516.6,210.7 516.8,210.7 517,210.1 517.1,210.9 517.3,210.9 517.5,210.2 517.7,210.5 517.9,210.9 518.1,209.3 518.3,208.7 518.5,207.3 518.7,207.4 518.9,205.6 519.1,206.3 519.2,206.1 519.4,204.9 519.6,203.6 519.8,204 520,204.2 520.2,203.8 520.4,204.9 520.6,204.2 520.8,203.5 521,205.5 521.2,206.9 521.3,208 521.5,209.5 521.7,209.2 521.9,208.2 522.1,208.7 522.3,208.6 522.5,209.1 522.7,208.5 522.9,208.9 523.1,208.6 523.3,208.6 523.4,208.7 523.6,207.5 523.8,207.6 524,206.7 524.2,206.5 524.4,205.9 524.6,206.4 524.8,206.2 525,206 525.2,206.9 525.4,207.1 525.5,207.6 525.7,208.1 525.9,207.5 526.1,208.1 526.3,209.4 526.5,210.7 526.7,211.1 526.9,211.6 527.1,211.7 527.3,211.3 527.5,210 527.6,209.8 527.8,209.5 528,210 528.2,209.6 528.4,208.5 528.6,207.5 528.8,209 529,208.3 529.2,207.1 529.4,206.5 529.6,207.6 529.7,207.8 529.9,207.4 530.1,207.1 530.3,207.7 530.5,208.4 530.7,207.7 530.9,208.6 531.1,207.6 531.3,207.6 531.5,207.3 531.7,208.3 531.8,208.8 532,208 532.2,208.8 532.4,206.9 532.6,207.7 532.8,208.3 533,208 533.2,208 533.4,207.8 533.6,208.5 533.8,209 533.9,209.5 534.1,210.3 534.3,212.6 534.5,213.3 534.7,214.5 534.9,215.8 535.1,217.7 535.3,218.9 535.5,220.2 535.7,221.5 535.9,221.9 536.1,224.4 536.2,225.5 536.4,227.5 536.6,226.5 536.8,224.2 537,223.8 537.2,224.7 537.4,225.9 537.6,226 537.8,227.6 538,229.6 538.2,230 538.3,231.1 538.5,232.1 538.7,232.1 538.9,233.2 539.1,233.9 539.3,234.2 539.5,234.4 539.7,235.2 539.9,234.8 540.1,233.6 540.3,234.4 540.4,231.4 540.6,231.3 540.8,228.7 541,227.3 541.2,225.6 541.4,225.5 541.6,225.6 541.8,226.2 542,226.1 542.2,225.6 542.4,225.3 542.5,226 542.7,226.9 542.9,227.9 543.1,229.3 543.3,228.5 543.5,227.7 543.7,227.3 543.9,227.3 544.1,227.8 544.3,226.5 544.5,225.6 544.6,227 544.8,227.4 545,228.9 545.2,229.5 545.4,230.2 545.6,230.7 545.8,230.7 546,230.7 546.2,230.4 546.4,231.1 546.6,230.5 546.7,230 546.9,230.3 547.1,230.2 547.3,230.9 547.5,231.2 547.7,232.2 547.9,232.4 548.1,232.5 548.3,232 548.5,231.8 548.7,231.6 548.8,231.6 549,231.5 549.2,231.5 549.4,231.2 549.6,232.1 549.8,231.5 550,232.1 550.2,232.2 550.4,232 550.6,232.1 550.8,229.5 550.9,229.5 551.1,228.5 551.3,227.8 551.5,228 551.7,227.7 551.9,226.9 552.1,227 552.3,226.9 552.5,227.1 552.7,227 552.9,227.1 553,226.9 553.2,226.2 553.4,225.4 553.6,225.2 553.8,228.2 554,227.6 554.2,227.7 554.4,228.2 554.6,227.5 554.8,228 555,227.4 555.1,227.8 555.3,226.8 555.5,227.3 555.7,226.7 555.9,225.8 556.1,226.3 556.3,225.4 556.5,225.8 556.7,226.6 556.9,226.2 557.1,225.7 557.2,225.8 557.4,227 557.6,227 557.8,227 558,227.2 558.2,227.2 558.4,228.1 558.6,228.3 558.8,227.3 559,226.4 559.2,226.5 559.3,226.8 559.5,226.5 559.7,225.8 559.9,225.4 560.1,225.9 560.3,225.7 560.5,225.6 560.7,224.7 560.9,218.6 561.1,218.1 561.3,217.3 561.4,217.3 561.6,216.3 561.8,216.4 562,216 562.2,215.3 562.4,215.6 562.6,215.9 562.8,216.8 563,216.6 563.2,216.5 563.4,216.6 563.5,216.3 563.7,217.3 563.9,217.2 564.1,217.1 564.3,217.1 564.5,216.6 564.7,215.6 564.9,215.7 565.1,216.1 565.3,216.4 565.5,215.9 565.6,215.3 565.8,215.4 566,214.5 566.2,214.6 566.4,213.8 566.6,213.2 566.8,212.6 567,210.5 567.2,209.7 567.4,208.8 567.6,207.6 567.8,206.2 567.9,206 568.1,204.8 568.3,204.3 568.5,203 568.7,201.3 568.9,200.4 569.1,201.1 569.3,201.6 569.5,203.8 569.7,202.7 569.9,201.7 570,201 570.2,200.5 570.4,200.2 570.6,199.7 570.8,198.3 571,197.7 571.2,196.3 571.4,197.1 571.6,197.5 571.8,197.6 572,197.8 572.1,198.9 572.3,199.5 572.5,199.1 572.7,200 572.9,200.7 573.1,201.6 573.3,201.3 573.5,200.4 573.7,199.5 573.9,200 574.1,198.6 574.2,198.4 574.4,198.1 574.6,196.7 574.8,196.1 575,196.2 575.2,196 575.4,195.1 575.6,194.4 575.8,193.3 576,191.6 576.2,190.1 576.3,189.6 576.5,186.6 576.7,185.7 576.9,184.1 577.1,182.7 577.3,183.7 577.5,185.3 577.7,186.5 577.9,186.9 578.1,188.3 578.3,190.3 578.4,189.5 578.6,189.2 578.8,188.8 579,188 579.2,187.2 579.4,186.7 579.6,185.6 579.8,185 580,187.1 580.2,187.9 580.4,189.4 580.5,190.1 580.7,191.8 580.9,192.8 581.1,194 581.3,195.3 581.5,195.9 581.7,196.4 581.9,195.5 582.1,196.3 582.3,195.7 582.5,195 582.6,194.5 582.8,194 583,194.1 583.2,194 583.4,192.8 583.6,191.6 583.8,190.1 584,189.2 584.2,188.5 584.4,187.8 584.6,186.5 584.7,186.3 584.9,186 585.1,186.4 585.3,187 585.5,187.4 585.7,189 585.9,189.4 586.1,189.8 586.3,189.7 586.5,191 586.7,191.4 586.8,191.4 587,191.3 587.2,190.9 587.4,190.6 587.6,191.4 587.8,191.3 588,191.8 588.2,192.4 588.4,191.9 588.6,192.4 588.8,193.1 588.9,193.6 589.1,194.3 589.3,194 589.5,193.5 589.7,192.4 589.9,191.8 590.1,191.8 590.3,191 590.5,191 590.7,190.9 590.9,190.6 591,190.7 591.2,190.1 591.4,190.4 591.6,190.3 591.8,190.3 592,191 592.2,191.6 592.4,191.8 592.6,191.6 592.8,191.5 593,191.3 593.1,191.3 593.3,191.6 593.5,191.4 593.7,192.9 593.9,194.7 594.1,195.9 594.3,197.7 594.5,198 594.7,198.4 594.9,198.7 595.1,198.8 595.2,199.2 595.4,199.5 595.6,199.9 595.8,199.4 596,199.5 596.2,198.8 596.4,199.9 596.6,199.9 596.8,199.3 597,200.2 597.2,200 597.3,199.5 597.5,199 597.7,200.2 597.9,200.4 598.1,200.7 598.3,201.5 598.5,201.5 598.7,201.9 598.9,202.2 599.1,202.8 599.3,202.9 599.5,203.2 599.6,202.9 599.8,203 600,200.6 600.2,198 600.4,194.8 600.6,195 600.8,194.9 601,194.7 601.2,194.8 601.4,196.1 601.6,196.1 601.7,196 601.9,196 602.1,196.5 602.3,195.9 602.5,196 602.7,196.4 602.9,196.8 603.1,197.1 603.3,198.2 603.5,199.2 603.7,198.6 603.8,198.4 604,198.3 604.2,198.1 604.4,198.2 604.6,199.6 604.8,199.5 605,199.7 605.2,200.4 605.4,202.3 605.6,202.6 605.8,202.8 605.9,204 606.1,204.8 606.3,204.4 606.5,204.4 606.7,203.8 606.9,203.7 607.1,203.3 607.3,203.3 607.5,204.4 607.7,205.3 607.9,203.9 608,204.1 608.2,203.7 608.4,203.5 608.6,202.9 608.8,202.9 609,203.6 609.2,203.9 609.4,205.3 609.6,205.7 609.8,205.6 610,207.1 610.1,207.3 610.3,207.2 610.5,205.6 610.7,205.2 610.9,204.7 611.1,204.8 611.3,204.5 611.5,203.3 611.7,202.4 611.9,203.2 612.1,202.7 612.2,202.7 612.4,203.2 612.6,202.3 612.8,203.9 613,204.2 613.2,204.3 613.4,203.2 613.6,202.3 613.8,201.2 614,201.2 614.2,200.8 614.3,200.1 614.5,199.9 614.7,199.2 614.9,198.8 615.1,198.5 615.3,198.7 615.5,197.1 615.7,196.8 615.9,198 616.1,197.8 616.3,197.8 616.4,197.7 616.6,196.7 616.8,196.8 617,196.9 617.2,197.3 617.4,197.3 617.6,197.5 617.8,197.4 618,195.7 618.2,195.5 618.4,195.9 618.5,194.9 618.7,194.4 618.9,194 619.1,193.7 619.3,193.3 619.5,192.9 619.7,192.2 619.9,191.7 620.1,191 620.3,191.4 620.5,191.4 620.6,191.9 620.8,191.4 621,191 621.2,191.3 621.4,191 621.6,190.2 621.8,190.2 622,191.5 622.2,192.2 622.4,192.5 622.6,193.1 622.7,193.6 622.9,193.6 623.1,194.1 623.3,195.3 623.5,195.6 623.7,196.3 623.9,196.8 624.1,196.6 624.3,196.8 624.5,197 624.7,196.6 624.8,196.7 625,197.6 625.2,196.5 625.4,196.6 625.6,196.4 625.8,195.6 626,199.2 626.2,200.8 626.4,207.1 626.6,212.5 626.8,218.6 626.9,218 627.1,217.6 627.3,217.2 627.5,217.8 627.7,216.5 627.9,214.5 628.1,211.6 628.3,209.8 628.5,209.4 628.7,209.1 628.9,208.6 629.1,207.9 629.2,208.6 629.4,208.2 629.6,208.1 629.8,208.1 630,208.4 630.2,208.7 630.4,208.5 630.6,208.5 630.8,206.4 631,204.8 631.2,204.2 631.3,203.1 631.5,202.9 631.7,203.8 631.9,204.7 632.1,204.5 632.3,203.7 632.5,203.6 632.7,204.1 632.9,204.1 633.1,204.6 633.3,205.3 633.4,205.3 633.6,204.8 633.8,204.5 634,204.3 634.2,204 634.4,203.2 634.6,201.7 634.8,201.1 635,199.1 635.2,199.3 635.4,198.4 635.5,198.3 635.7,197.6 635.9,196.8 636.1,196 636.3,194.9 636.5,194.6 636.7,194.8 636.9,194.3 637.1,193.6 637.3,193.5 637.5,192.5 637.6,193.3 637.8,195.8 638,197.3 638.2,196.3 638.4,197 638.6,196.5 638.8,196.3 639,196.7 639.2,195.6 639.4,195.1 639.6,195 639.7,194.3 639.9,193.6 640.1,192.9 640.3,192.2 640.5,191.7 640.7,192 640.9,191.9 641.1,191.5 641.3,192.7 641.5,191.2 641.7,191.1 641.8,191.3 642,192 642.2,191.5 642.4,194 642.6,194.3 642.8,194.6 643,195.1 643.2,195.5 643.4,195.6 643.6,196 643.8,195.6 643.9,195.7 644.1,195.7 644.3,195.5 644.5,194.8 644.7,194.5 644.9,194.4 645.1,194.5 645.3,194.9 645.5,195 645.7,194.6 645.9,194.5 646,194.6 646.2,195.3 646.4,196.1 646.6,195.9 646.8,195.3 647,195.1 647.2,195.8 647.4,195.8 647.6,195.5 647.8,195.8 648,195.5 648.1,195.5 648.3,195.8 648.5,196.3 648.7,195.7 648.9,195.4 649.1,195.7 649.3,196.1 649.5,195.5 649.7,195 649.9,195.1 650.1,194.1 650.2,194.1 650.4,194.6 650.6,193.9 650.8,193.9 651,193.6 651.2,193.5 651.4,193.9 651.6,194.5 651.8,194.5 652,192.8 652.2,192.5 652.3,190.9 652.5,189.9 652.7,189.6 652.9,188.6 653.1,187.4 653.3,187.1 653.5,187.4 653.7,186.4 653.9,186.1 654.1,185.7 654.3,186.5 654.4,186.3 654.6,186.6 654.8,187.1 655,187.1 655.2,186.7 655.4,186.8 655.6,187.2 655.8,186.9 656,187.6 656.2,187.1 656.4,186.6 656.5,185.5 656.7,184.8 656.9,184.4 657.1,184.7 657.3,185.1 657.5,186.3 657.7,186 657.9,186.1 658.1,186.7 658.3,187.8 658.5,187.4 658.6,187 658.8,187.5 659,187 659.2,185.9 659.4,185.7 659.6,185.4 659.8,185.5 660,187.8 660.2,189.3 660.4,189.6 660.6,191.5 660.8,191.6 660.9,191.1 661.1,191.3 661.3,190.9 661.5,190.4 661.7,190.9 661.9,191.5 662.1,191.5 662.3,191 662.5,190.8 662.7,190.1 662.9,190.8 663,190.6 663.2,190.9 663.4,190.8 663.6,190.6 663.8,191.1 664,191.2 664.2,191.5 664.4,191.1 664.6,191.2 664.8,191.2 665,190.8 665.1,190.8 665.3,189.9 665.5,189.9 665.7,189.3 665.9,188.9 666.1,189.3 666.3,189.2 666.5,189.5 666.7,189.4 666.9,189.4 667.1,188.2 667.2,188.2 667.4,187.2 667.6,186.8 667.8,186.8 668,187.5 668.2,186.5 668.4,186.9 668.6,185.9 668.8,184.8 669,183.9 669.2,183.4 669.3,182.9 669.5,182.4 669.7,182.1 669.9,181.9 670.1,181.6 670.3,180.6 670.5,180.4 670.7,179.8 670.9,179.9 671.1,179.9 671.3,180.2 671.4,179.4 671.6,178.3 671.8,177.3 672,176.7 672.2,175.6 672.4,175.4 672.6,174.9 672.8,174.4 673,173.7 673.2,174.7 673.4,175 673.5,174.3 673.7,173.9 673.9,172.4 674.1,172.1 674.3,172.1 674.5,170.9 674.7,170.4 674.9,169.1 675.1,168.6 675.3,168.5 675.5,167.9 675.6,168.1 675.8,168.1 676,170.2 676.2,172.2 676.4,171.2 676.6,170.9 676.8,170.1 677,169.8 677.2,168.7 677.4,170.3 677.6,170.6 677.7,170.7 677.9,171.4 678.1,171.1 678.3,171.1 678.5,170.6 678.7,170.2 678.9,170.1 679.1,170.3 679.3,169.5 679.5,168.3 679.7,167.2 679.8,165.7 680,164.5 680.2,161.5 680.4,161.7 680.6,160.4 680.8,159.9 681,159.3 681.2,158.1 681.4,157.4 681.6,157.4 681.8,156.4 681.9,155.8 682.1,156.2 682.3,155.1 682.5,154.6 682.7,153.9 682.9,152.6 683.1,151.2 683.3,150.2 683.5,147.8 683.7,145.8 683.9,144.3 684,142.3 684.2,140.6 684.4,139.9 684.6,142.4 684.8,144.7 685,145.1 685.2,143.8 685.4,142.5 685.6,141.4 685.8,142.6 686,144.3 686.1,145.1 686.3,146.3 686.5,147.1 686.7,148.9 686.9,150.4 687.1,150.3 687.3,150.1 687.5,150.7 687.7,150.6 687.9,150.8 688.1,150.9 688.2,148.4 688.4,146.4 688.6,145 688.8,143.8 689,142.5 689.2,141.3 689.4,140.8 689.6,139.7 689.8,139.1 690,138.6 690.2,137.2 690.3,135.3 690.5,135.7 690.7,134.5 690.9,133.9 691.1,134.1 691.3,133.8 691.5,133.4 691.7,132.4 691.9,131.8 692.1,131.7 692.3,130.9 692.5,129.6 692.6,128.4 692.8,127.2 693,129.7 693.2,133.3 693.4,134.1 693.6,134.7 693.8,135 694,135.6 694.2,136.2 694.4,135.8 694.6,134.5 694.7,135.4 694.9,135.2 695.1,133.6 695.3,133.2 695.5,132.9 695.7,131.5 695.9,131 696.1,130.1 696.3,128.7 696.5,126.5 696.7,124.9 696.8,126 697,126.9 697.2,128.2 697.4,128.7 697.6,128.9 697.8,128.8 698,129 698.2,129.4 698.4,129.7 698.6,130.6 698.8,131.2 698.9,131.3 699.1,130.7 699.3,129.9 699.5,128.4 699.7,127.4 699.9,126.6 700.1,126.5 700.3,126.3 700.5,125.9 700.7,126.2 700.9,125.8 701,126.2 701.2,125.9 701.4,125.8 701.6,125.1 701.8,125.1 702,125.1 702.2,124.8 702.4,124.6 702.6,123.5 702.8,124.5 703,125.7 703.1,126.7 703.3,127.3 703.5,128.1 703.7,128.6 703.9,130.3 704.1,129.8 704.3,129.8 704.5,130.7 704.7,132.3 704.9,133.1 705.1,132 705.2,132.4 705.4,131.5 705.6,131.5 705.8,130.4 706,128.8 706.2,127.4 706.4,127.4 706.6,126.9 706.8,126.6 707,127 707.2,127 707.3,126.4 707.5,128.2 707.7,129.8 707.9,131.8 708.1,132.8 708.3,134.4 708.5,134.1 708.7,135.1 708.9,135.1 709.1,138.2 709.3,141 709.4,143.6 709.6,143.6 709.8,145 710,145.1 710.2,146 710.4,144 710.6,142.9 710.8,141.3 711,141.7 711.2,140.9 711.4,141.4 711.5,141.6 711.7,140.8 711.9,140.9 712.1,140.8 712.3,141.4 712.5,142.1 712.7,144 712.9,144.7 713.1,145.8 713.3,147.4 713.5,146.9 713.6,145.1 713.8,143.7 714,143.2 714.2,141.1 714.4,140.2 714.6,141.2 714.8,141.9 715,143.3 715.2,145 715.4,146.2 715.6,146.4 715.7,146.7 715.9,148.4 716.1,147.2 716.3,146.7 716.5,145.9 716.7,145.4 716.9,144.7 717.1,144.7 717.3,144.7 717.5,145.4 717.7,145.9 717.8,145.9 718,146.8 718.2,146.3 718.4,146.9 718.6,147.1 718.8,146.6 719,146.2 719.2,146.2 719.4,146.6 719.6,147 719.8,147.7 719.9,148 720.1,148.3 720.3,148.3 720.5,148.9 720.7,149.6 720.9,150.1 721.1,150.6 721.3,151.6 721.5,150 721.7,147.3 721.9,146.8 722.1,146.1 722.2,145.1 722.4,143.3 722.6,141.7 722.8,140.9 723,139.6 723.2,138.7 723.4,138.4 723.6,138.6 723.8,138.4 724,138.3 724.2,137.6 724.3,136.2 724.5,137.1 724.7,136.6 724.9,136.5 725.1,135.7 725.3,135 725.5,134.4 725.7,133.8 725.9,134.1 726.1,134.9 726.3,133.9 726.4,133.2 726.6,133.6 726.8,132.8 727,132.4 727.2,133.6 727.4,133 727.6,133.5 727.8,132.8 728,133.2 728.2,133.7 728.4,134.5 728.5,134.7 728.7,134.2 728.9,134.7 729.1,135.7 729.3,134.6 729.5,132.9 729.7,131.8 729.9,131.4 730.1,131.3 730.3,131.5 730.5,130.5 730.6,134.9 730.8,135.8 731,136.1 731.2,136.6 731.4,137 731.6,137.1 731.8,136.3 732,136.2 732.2,135.3 732.4,134.3 732.6,134 732.7,133.7 732.9,136.4 733.1,137.8 733.3,140 733.5,140.2 733.7,140 733.9,140.3 734.1,140.7 734.3,140.8 734.5,139.8 734.7,139.8 734.8,139.3 735,138.4 735.2,137.6 735.4,134.9 735.6,133.4 735.8,132.4 736,130.7 736.2,128.7 736.4,129.1 736.6,129 736.8,128.3 736.9,128.3 737.1,127.3 737.3,126.3 737.5,125.5 737.7,125.2 737.9,124.7 738.1,124.6 738.3,124.1 738.5,123.5 738.7,123.1 738.9,122.1 739,121.6 739.2,122.8 739.4,123.5 739.6,123.9 739.8,124.4 740,125.4 740.2,126.6 740.4,125.8 740.6,125.2 740.8,124.7 741,124.9 741.1,124.4 741.3,123.7 741.5,123.4 741.7,122.7 741.9,121.1 742.1,121.8 742.3,121 742.5,121.3 742.7,122.3 742.9,122.7 743.1,122.6 743.2,122.9 743.4,123.7 743.6,124.8 743.8,125.3 744,125.6 744.2,126.3 744.4,127.4 744.6,126.8 744.8,127.5 745,127.9 745.2,128.5 745.3,129.1 745.5,129.3 745.7,129.8 745.9,129.8 746.1,129.9 746.3,130.3 746.5,128.7 746.7,128.3 746.9,127.4 747.1,129 747.3,130.8 747.4,133 747.6,133.6 747.8,134.3 748,133.6 748.2,133 748.4,132.5 748.6,133.2 748.8,134.1 749,134.5 749.2,134.9 749.4,134.7 749.5,135.1 749.7,134 749.9,134.2 750.1,134.3 750.3,133.7 750.5,133.3 750.7,133.6 750.9,133 751.1,131.8 751.3,132.8 751.5,133.2 751.6,134.1 751.8,135.5 752,135.5 752.2,135.4 752.4,135.2 752.6,135.3 752.8,136.3 753,136.2 753.2,136.5 753.4,137.1 753.6,137.6 753.8,137.6 753.9,138.1 754.1,137.5 754.3,137.6 754.5,139.1 754.7,138.5 754.9,137.7 755.1,137.6 755.3,138.2 755.5,137.1 755.7,137.7 755.9,137.7 756,138.6 756.2,139.2 756.4,140 756.6,142.8 756.8,145.5 757,145.2 757.2,145.3 757.4,144.7 757.6,144 757.8,144.2 758,144.2 758.1,143.7 758.3,142.7 758.5,142.1 758.7,140.8 758.9,140.5 759.1,140.8 759.3,139.6 759.5,139.1 759.7,138.1 759.9,137.3 760.1,137.4 760.2,138.1 760.4,137.6 760.6,137.7 760.8,137.5 761,137.3 761.2,136.8 761.4,136.7 761.6,138.9 761.8,140.5 762,140.7 762.2,141.7 762.3,142.6 762.5,143.6 762.7,143.1 762.9,142.7 763.1,142.3 763.3,141.1 763.5,140.3 763.7,138.7 763.9,137.8 764.1,137.8 764.3,138.6 764.4,140.3 764.6,140.4 764.8,141.3 765,141.7 765.2,142.6 765.4,142.1 765.6,141.4 765.8,141.4 766,141.4 766.2,141.2 766.4,140.9 766.5,141 766.7,141.1 766.9,140.9 767.1,139.9 767.3,138.9 767.5,139 767.7,138.5 767.9,138.7 768.1,138.5 768.3,137.7 768.5,137.2 768.6,136.3 768.8,136.3 769,135.3 769.2,134.6 769.4,135.4 769.6,135.7 769.8,135.5 770,136 770.2,135.9 770.4,135.7 770.6,135 770.7,136.5 770.9,137.5 771.1,138.1 771.3,138.2 771.5,139 771.7,139.4 771.9,141.2 772.1,141.6 772.3,140.7 772.5,141 772.7,139.9 772.8,140.4 773,140.6 773.2,141.6 773.4,141.3 773.6,141.2 773.8,140.2 774,140.6 774.2,141.1 774.4,142.3 774.6,142.8 774.8,142.7 774.9,142.7 775.1,142.5 775.3,142.4 775.5,142.9 775.7,142.2 775.9,141.8 776.1,142.2 776.3,141 776.5,142.9 776.7,145.6 776.9,147.5 777,149.4 777.2,151 777.4,150.5 777.6,152.6 777.8,152.6 778,151.6 778.2,152 778.4,152.8 778.6,152.5 778.8,152.2 779,151.8 779.1,152.3 779.3,152.4 779.5,152 779.7,151.4 779.9,149.9 780.1,149.5 780.3,149.6 780.5,150.7 780.7,149.9 780.9,149.7 781.1,149.5 781.2,149.8 781.4,149.2 781.6,150.3 781.8,150.3 782,150.3 782.2,150.2 782.4,149.5 782.6,149.7 782.8,150.2 783,150.3 783.2,151.7 783.3,152.5 783.5,155.7 783.7,158.4 783.9,162 784.1,162.5 784.3,163.2 784.5,164.9 784.7,166.6 784.9,168.3 785.1,168 785.3,167.7 785.5,167.1 785.6,166.4 785.8,166.5 786,165.7 786.2,165.1 786.4,164.6 786.6,164.6 786.8,165.6 787,165.7 787.2,166.6 787.4,166.9 787.6,166.7 787.7,166.3 787.9,166 788.1,166 788.3,166.4 788.5,166.1 788.7,166.3 788.9,166.9 789.1,166.6 789.3,165.6 789.5,165.6 789.7,166 789.8,165 790,163.8 790.2,163.7 790.4,163.5 790.6,163.1 790.8,161.2 791,160.9 791.2,160.7 791.4,160.8 791.6,162.1 791.8,163.1 791.9,164.1 792.1,164.2 792.3,163 792.5,160.9 792.7,159.9 792.9,160 793.1,160.2 793.3,160.3 793.5,159.3 793.7,159.3 793.9,158.8 794,158.3 794.2,158.8 794.4,158.7 794.6,159.1 794.8,159.3 795,159.4 795.2,159.6 795.4,159.9 795.6,159 795.8,159.2 796,160.5 796.1,161.3 796.3,162.7 796.5,163.8 796.7,164.8 796.9,164.4 797.1,163.7 797.3,164.7 797.5,163.9 797.7,164.1 797.9,165.3 798.1,165.9 798.2,166.9 798.4,167.1 798.6,167.9 798.8,168.5 799,168.3 799.2,168.2 799.4,168.6 799.6,168.7 799.8,168.8 800,168.7 800.2,168.7 800.3,167.6 800.5,165.8 800.7,165.5 800.9,164.5 801.1,163.2 801.3,162.2 801.5,163.3 801.7,164.3 801.9,164.9 802.1,165 802.3,165.9 802.4,166.8 802.6,167.3 802.8,167.4 803,168.3 803.2,168.1 803.4,168.2 803.6,168.4 803.8,168 804,167.9 804.2,168.1 804.4,168.7 804.5,169 804.7,168.4 804.9,167.8 805.1,166.9 805.3,166.2 805.5,165.8 805.7,166.2 805.9,166.5 806.1,166.3 806.3,166.6 806.5,165.9 806.6,166.4 806.8,167 807,166.8 807.2,167.5 807.4,166.5 807.6,166.9 807.8,166.7 808,166.7 808.2,167 808.4,167.8 808.6,168.7 808.7,168.1 808.9,167.4 809.1,166 809.3,166.7 809.5,166.2 809.7,166.3 809.9,165.9 810.1,166.2 810.3,165.9 810.5,165.5 810.7,165.2 810.8,164.5 811,164.6 811.2,163.9 811.4,164.3 811.6,164.4 811.8,166.9 812,167.9 812.2,169.3 812.4,174.9 812.6,174.6 812.8,174.4 812.9,174.6 813.1,173.9 813.3,174.7 813.5,175.2 813.7,174.4 813.9,174.2 814.1,175.4 814.3,175.2 814.5,175.9 814.7,175.1 814.9,174.2 815.1,174.2 815.2,173.2 815.4,173.4 815.6,172.6 815.8,172 816,171.7 816.2,172.2 816.4,172.1 816.6,173 816.8,172.9 817,173.6 817.2,172.5 817.3,172.7 817.5,173.6 817.7,172.9 817.9,172.4 818.1,172.3 818.3,170.7 818.5,169.9 818.7,169.5 818.9,169.5 819.1,170.7 819.3,171 819.4,171 819.6,171.8 819.8,173.1 820,173.6 820.2,174.5 820.4,174.5 820.6,174 820.8,173.2 821,173 821.2,172.8 821.4,172.4 821.5,171.6 821.7,171.7 821.9,172.3 822.1,172.8 822.3,173.4 822.5,173.8 822.7,173.7 822.9,173.4 823.1,173.2 823.3,173.1 823.5,173.2 823.6,172.8 823.8,172.2 824,171 824.2,169.5 824.4,168.9 824.6,168.3 824.8,166.6 825,165.8 825.2,164.8 825.4,164.3 825.6,163 825.7,162.5 825.9,162.4 826.1,161.7 826.3,161.7 826.5,161 826.7,161 826.9,160.7 827.1,160.6 827.3,160.2 827.5,160.3 827.7,159.5 827.8,160 828,160.4 828.2,160.9 828.4,160.7 828.6,160.9 828.8,160.7 829,161.1 829.2,161.6 829.4,162.4 829.6,162.7 829.8,163.2 829.9,163.2 830.1,162.3 830.3,161 830.5,160.4 830.7,160.1 830.9,159.9 831.1,159.2 831.3,159.5 831.5,158.9 831.7,159.4 831.9,158.9 832,158.4 832.2,159.6 832.4,159.5 832.6,159.4 832.8,159.3 833,159.9 833.2,159.9 833.4,160.8 833.6,161.4 833.8,162 834,161.6 834.1,162.3 834.3,162.4 834.5,163 834.7,164 834.9,164.5 835.1,164.7 835.3,165.7 835.5,166 835.7,164.3 835.9,162.7 836.1,160.5 836.2,158.5 836.4,157.8 836.6,157.5 836.8,156.2 837,154.9 837.2,153.9 837.4,153.9 837.6,154.9 837.8,154.8 838,154.6 838.2,154.6 838.3,155 838.5,155.1 838.7,155.1 838.9,154.4 839.1,154.1 839.3,153.8 839.5,154 839.7,153.4 839.9,152.6 840.1,152.7 840.3,152.2 840.4,151.9 840.6,151.8 840.8,152.3 841,151.2 841.2,152.1 841.4,151.8 841.6,151.8 841.8,150.9 842,150.9 842.2,151.4 842.4,151.7 842.5,152 842.7,152.9 842.9,153.2 843.1,153.5 843.3,153.6 843.5,153.9 843.7,153.9 843.9,154.1 844.1,154.6 844.3,154.4 844.5,154.1 844.6,153.2 844.8,153.3 845,153 845.2,152.3 845.4,152.6 845.6,152.8 845.8,152.9 846,153.5 846.2,154.3 846.4,153.9 846.6,154 846.8,154.3 846.9,155.2 847.1,155.2 847.3,154.7 847.5,155.5 847.7,156.3 847.9,156 848.1,155.4 848.3,154.8 848.5,155.4 848.7,155.3 848.9,156 849,156 849.2,156.5 849.4,156.6 849.6,156.2 849.8,156.2 850,155.7 850.2,155 850.4,154.2 850.6,153.8 850.8,154.2 851,154.3 851.1,153.9 851.3,155.6 851.5,156.7 851.7,157.9 851.9,157.9 852.1,157 852.3,156.7 852.5,156.4 852.7,155.6 852.9,156.7 853.1,156.6 853.2,158.1 853.4,157.8 853.6,157.9 853.8,158 854,157.1 854.2,156.7 854.4,155.4 854.6,154.8 854.8,153.9 855,151.8 855.2,151.4 855.3,150.4 855.5,150.5 855.7,150.1 855.9,149.8 856.1,150 856.3,149.7 856.5,149.1 856.7,148.6 856.9,148.9 857.1,149.2 857.3,148.9 857.4,150 857.6,150.5 857.8,150.3 858,150.2 858.2,149.3 858.4,148.5 858.6,148.5 858.8,148.4 859,149.3 859.2,149.6 859.4,149.6 859.5,149.8 859.7,149.8 859.9,149.5 860.1,150.1 860.3,150.5 860.5,151.5 860.7,151 860.9,151.6 861.1,152.6 861.3,152.2 861.5,152.4 861.6,152 861.8,152.3 862,151.2 862.2,151 862.4,151 862.6,151 862.8,151.2 863,150.9 863.2,149.9 863.4,150.3 863.6,151 863.7,150.7 863.9,150.3 864.1,151.2 864.3,151.7 864.5,152.2 864.7,151.9 864.9,151.6 865.1,152 865.3,152.6 865.5,152.2 865.7,153.4 865.8,153 866,155.8 866.2,154.9 866.4,154.5 866.6,155 866.8,155.3 867,155.6 867.2,156.2 867.4,156.3 867.6,155.9 867.8,156.9 867.9,157.2 868.1,156.5 868.3,154.3 868.5,155.2 868.7,156.1 868.9,156.9 869.1,157.8 869.3,157.2 869.5,157.1 869.7,157.5 869.9,158.2 870,158.4 870.2,158.7 870.4,157.7 870.6,158 870.8,157.9 871,157.1 871.2,156.4 871.4,156.3 871.6,157.2 871.8,156.2 872,155.6 872.1,155.6 872.3,155.6 872.5,156 872.7,156.5 872.9,157.2 873.1,156.8 873.3,156.5 873.5,156.3 873.7,155.8 873.9,155.5 874.1,155.3 874.2,155.7 874.4,155.3 874.6,154.8 874.8,154.6 875,154 875.2,154.4 875.4,155 875.6,154.5 875.8,154.9 876,154.9 876.2,155.1 876.3,155.2 876.5,155.5 876.7,155.1 876.9,155.4 877.1,153.7 877.3,152.9 877.5,153.3 877.7,152.7 877.9,152.3 878.1,151.7 878.3,152 878.5,150.7 878.6,148.7 878.8,147.8 879,147 879.2,146.2 879.4,146.6 879.6,145.7 879.8,146.4 880,146.5 880.2,146.4 880.4,145.5 880.6,145.2 880.7,145.3 880.9,145.7 881.1,145.6 881.3,145.5 881.5,145.1 881.7,144.3 881.9,143.9 882.1,143.9 882.3,144.2 882.5,143.6 882.7,143.7 882.8,144 883,143.3 883.2,142.7 883.4,142.9 883.6,143.4 883.8,144.2 884,144.1 884.2,144.8 884.4,144.8 884.6,144.5 884.8,143.8 884.9,142.9 885.1,142.7 885.3,142.4 885.5,142.1 885.7,142.6 885.9,143.1 886.1,143 886.3,141.9 886.5,140.5 886.7,139.6 886.9,138.5 887,137.1 887.2,136.6 887.4,137.1 887.6,137 887.8,137.5 888,138.4 888.2,139.5 888.4,139.5 888.6,139.8 888.8,139.5 889,140.3 889.1,139.6 889.3,139.2 889.5,138.8 889.7,137.9 889.9,137.4 890.1,138.3 890.3,138.2 890.5,137.9 890.7,138.2 890.9,138.7 891.1,138.4 891.2,138 891.4,138.2 891.6,138.2 891.8,138.4 892,138.7 892.2,137.8 892.4,136.4 892.6,137 892.8,137.1 893,136 893.2,135.6 893.3,135.4 893.5,134.7 893.7,134.7 893.9,134.9 894.1,135.2 894.3,138.1 894.5,138.1 894.7,137.7 894.9,138.1 895.1,138.5 895.3,138.4 895.4,138.2 895.6,138.2 895.8,139.3 896,139.7 896.2,141.2 896.4,141.2 896.6,141.2 896.8,141.2 897,140 897.2,138.9 897.4,138.3 897.5,137.7 897.7,137.7 897.9,138 898.1,138 898.3,137 898.5,137.5 898.7,137.9 898.9,137.8 899.1,137.3 899.3,136.9 899.5,136 899.6,134.6 899.8,133.9 900,133.8 900.2,132.9 900.4,132.4 900.6,131.1 900.8,130.7 901,131 901.2,130.9 901.4,130.9 901.6,131.1 901.7,131.3 901.9,130.6 902.1,130.6 902.3,131.4 902.5,131.7 902.7,131.2 902.9,127.8 903.1,126.2 903.3,124.1 903.5,123.5 903.7,123.5 903.8,122.5 904,121.8 904.2,120.8 904.4,123.4 904.6,123.1 904.8,122.2 905,121.3 905.2,121.1 905.4,121 905.6,119.7 905.8,118.9 905.9,118.3 906.1,120.4 906.3,121.4 906.5,122.5 906.7,122.8 906.9,123.5 907.1,124.5 907.3,123.8 907.5,123.2 907.7,122.9 907.9,122.1 908.1,121.4 908.2,121.1 908.4,120.4 908.6,120.2 908.8,121.1 909,121.2 909.2,120.9 909.4,121.9 909.6,122.2 909.8,122.4 910,122 910.2,121.5 910.3,121.4 910.5,121.3 910.7,120.2 910.9,119.1 911.1,120.2 911.3,121.9 911.5,122 911.7,122.6 911.9,123.3 912.1,124.3 912.3,124.2 912.4,124.4 912.6,124.9 912.8,124.3 913,123 913.2,122.1 913.4,121.5 913.6,121.7 913.8,122.1 914,123 914.2,123.2 914.4,123.7 914.5,124.6 914.7,125.1 914.9,126.3 915.1,126.7 915.3,126.7 915.5,126.4 915.7,125.5 915.9,125.9 916.1,124.8 916.3,123.7 916.5,124.5 916.6,123.8 916.8,124 917,125.2 917.2,125.1 917.4,123.9 917.6,123.3 917.8,121.9 918,122 918.2,121.5 918.4,120.5 918.6,120.4 918.7,119.5 918.9,119.2 919.1,120.2 919.3,121.1 919.5,121.1 919.7,121.5 919.9,120.8 920.1,119.9 920.3,120.2 920.5,119.9 920.7,118.4 920.8,117.6 921,119 921.2,118.9 921.4,119.6 921.6,119.1 921.8,119.3 922,119.4 922.2,120 922.4,120 922.6,120.4 922.8,121.1 922.9,121.4 923.1,121.4 923.3,121.8 923.5,121.2 923.7,122.1 923.9,122.2 924.1,122.8 924.3,122.3 924.5,123 924.7,123.7 924.9,124.7 925,124 925.2,124 925.4,124.9 925.6,125.5 925.8,125.8 926,124.9 926.2,124.5 926.4,125.5 926.6,125 926.8,124.2 927,123.9 927.1,124.7 927.3,125.9 927.5,126.8 927.7,127.8 927.9,128.3 928.1,128.3 928.3,127.3 928.5,126.4 928.7,125.8 928.9,125.5 929.1,124.4 929.2,123 929.4,123.4 929.6,122.8 929.8,121.9 930,121.1 930.2,121.3 930.4,120.4 930.6,120.7 930.8,120.9 931,119.7 931.2,119.7 931.3,119.6 931.5,120.3 931.7,120.6 931.9,121.1 932.1,120.9 932.3,121.7 932.5,121.8 932.7,122.7 932.9,123.7 933.1,124.8 933.3,126.3 933.4,127.4 933.6,129.6 933.8,127.9 934,126.2 934.2,124.6 934.4,124.5 934.6,125.4 934.8,125.1 935,125.4 935.2,125.4 935.4,126.5 935.5,126.3 935.7,125.9 935.9,126 936.1,125.6 936.3,124.3 936.5,123.9 936.7,124 936.9,122.3 937.1,123.2 937.3,123.9 937.5,123.9 937.6,124.5 937.8,126 938,126.2 938.2,126.1 938.4,126.9 938.6,126.4 938.8,126.5 939,126.2 939.2,128.2 939.4,129.3 939.6,129.6 939.8,129.6 939.9,128.4 940.1,127.9 940.3,127.3 940.5,127.1 940.7,126 940.9,125.9 941.1,125.3 941.3,125.8 941.5,126.1 941.7,124.6 941.9,123.9 942,123.3 942.2,123.9 942.4,123.4 942.6,121.8 942.8,122.1 943,123 943.2,122.6 943.4,122.4 943.6,122 943.8,122.2 944,123.4 944.1,124.6 944.3,124.7 944.5,125.2 944.7,125.2 944.9,125.7 945.1,125.3 945.3,125.4 945.5,125.3 945.7,124.7 945.9,124.6 946.1,124.7 946.2,125.5 946.4,124.6 946.6,123.4 946.8,122.9 947,122.1 947.2,122.5 947.4,122.6 947.6,121.8 947.8,120.5 948,120.1 948.2,120.5 948.3,120.7 948.5,121.6 948.7,121.7 948.9,120.4 949.1,120 949.3,119.8 949.5,119 949.7,118.9 949.9,118.5 950.1,118.9 950.3,119.2 950.4,120.5 950.6,120.6 950.8,120.6 951,121.1 951.2,119.6 951.4,117.1 951.6,115.5 951.8,114.7 952,113.5 952.2,112.4 952.4,111.2 952.5,110.8 952.7,110.4 952.9,110.5 953.1,110.5 953.3,110.5 953.5,110.7 953.7,110.2 953.9,108.8 954.1,107.8 954.3,106.4 954.5,107.1 954.6,107 954.8,108.7 955,109 955.2,109.8 955.4,109.1 955.6,108.8 955.8,108.3 956,107.6 956.2,106.8 956.4,106.6 956.6,107.4 956.7,107.2 956.9,107.8 957.1,108 957.3,107.5 957.5,107.4 957.7,107.7 957.9,107.2 958.1,106.5 958.3,106.7 958.5,106.3 958.7,105.3 958.8,105.5 959,105.6 959.2,104.5 959.4,105.7 959.6,107.6 959.8,108 960,107.8 960.2,108.5 960.4,108.7 960.6,108.3 960.8,109.2 960.9,108.3 961.1,108.1 961.3,107.7 961.5,108.6 961.7,109.5 961.9,109.4 962.1,109.5 962.3,107.8 962.5,107.8 962.7,107.4 962.9,106.7 963,105.9 963.2,106.5 963.4,108.6 963.6,109.6 963.8,109 964,109.1 964.2,108.5 964.4,108.8 964.6,107.5 964.8,107.4 965,106.4 965.1,105.2 965.3,105.1 965.5,105 965.7,104.4 965.9,104.5 966.1,104.2 966.3,104.2 966.5,104.8 966.7,105.3 966.9,105 967.1,106 967.2,104.8 967.4,105.1 967.6,105" fill="none" stroke="#111" stroke-width="0.9" stroke-linejoin="round"/>
<polygon points="139,388.5 139,388.1 139.2,387.3 139.4,385.4 139.6,385.2 139.8,383.5 140,380.6 140.2,378.5 140.4,377 140.6,375.7 140.8,375.6 140.9,372.2 141.1,370.1 141.3,367.4 141.5,366.8 141.7,365.6 141.9,366 142.1,363.8 142.3,361.4 142.5,359.7 142.7,356.1 142.9,351.8 143,349.9 143.2,346 143.4,341.4 143.6,336.3 143.8,332 144,328.9 144.2,346.1 144.4,362.9 144.6,366.3 144.8,368.8 145,371.8 145.1,377.2 145.3,371.4 145.5,366.1 145.7,360.9 145.9,354.6 146.1,352 146.3,348.9 146.5,348 146.7,346.6 146.9,347.2 147.1,348 147.2,348.9 147.4,349.5 147.6,350.8 147.8,350.7 148,354.5 148.2,358.8 148.2,358.8 148.2,533.7 139,533.7" fill="#fddeb9"/>
<polyline points="139,388.5 139,388.1 139.2,387.3 139.4,385.4 139.6,385.2 139.8,383.5 140,380.6 140.2,378.5 140.4,377 140.6,375.7 140.8,375.6 140.9,372.2 141.1,370.1 141.3,367.4 141.5,366.8 141.7,365.6 141.9,366 142.1,363.8 142.3,361.4 142.5,359.7 142.7,356.1 142.9,351.8 143,349.9 143.2,346 143.4,341.4 143.6,336.3 143.8,332 144,328.9 144.2,346.1 144.4,362.9 144.6,366.3 144.8,368.8 145,371.8 145.1,377.2 145.3,371.4 145.5,366.1 145.7,360.9 145.9,354.6 146.1,352 146.3,348.9 146.5,348 146.7,346.6 146.9,347.2 147.1,348 147.2,348.9 147.4,349.5 147.6,350.8 147.8,350.7 148,354.5 148.2,358.8 148.2,358.8" fill="none" stroke="#a36a22" stroke-opacity="0.75" stroke-width="1.1"/>
<polygon points="188.3,275.1 188.3,275 188.5,273 188.7,272.9 188.9,272.6 189.1,273.1 189.3,272.1 189.4,272.3 189.6,278.5 189.8,283.6 190,290.7 190.2,287.3 190.4,283.2 190.6,278.2 190.8,281.7 190.8,281.9 190.8,533.7 188.3,533.7" fill="#fddeb9"/>
<polyline points="188.3,275.1 188.3,275 188.5,273 188.7,272.9 188.9,272.6 189.1,273.1 189.3,272.1 189.4,272.3 189.6,278.5 189.8,283.6 190,290.7 190.2,287.3 190.4,283.2 190.6,278.2 190.8,281.7 190.8,281.9" fill="none" stroke="#a36a22" stroke-opacity="0.75" stroke-width="1.1"/>
<polygon points="469,172.8 469,172.4 469.2,173.3 469.4,175.6 469.6,177.1 469.8,175.4 470,173.6 470.2,172.8 470.4,172.2 470.5,172.2 470.7,168.8 470.9,167.5 471.1,170.2 471.3,173.9 471.5,175.8 471.7,178.7 471.9,180.2 472.1,178.3 472.3,177.2 472.5,175.4 472.6,175.1 472.8,176.9 473,178.9 473.2,181.4 473.4,182.9 473.6,181.1 473.8,178 474,178.6 474.2,177.2 474.4,175.9 474.6,174.3 474.6,173.8 474.6,533.7 469,533.7" fill="#fddeb9"/>
<polyline points="469,172.8 469,172.4 469.2,173.3 469.4,175.6 469.6,177.1 469.8,175.4 470,173.6 470.2,172.8 470.4,172.2 470.5,172.2 470.7,168.8 470.9,167.5 471.1,170.2 471.3,173.9 471.5,175.8 471.7,178.7 471.9,180.2 472.1,178.3 472.3,177.2 472.5,175.4 472.6,175.1 472.8,176.9 473,178.9 473.2,181.4 473.4,182.9 473.6,181.1 473.8,178 474,178.6 474.2,177.2 474.4,175.9 474.6,174.3 474.6,173.8" fill="none" stroke="#a36a22" stroke-opacity="0.75" stroke-width="1.1"/>
<polygon points="684,142.8 684,142.3 684.2,140.6 684.4,139.9 684.6,142.4 684.8,144.7 685,145.1 685.2,143.8 685.4,142.5 685.6,141.4 685.8,142.6 686,144.3 686.1,145.1 686.3,146.3 686.5,147.1 686.7,148.9 686.9,150.4 687,150.3 687,533.7 684,533.7" fill="#fddeb9"/>
<polyline points="684,142.8 684,142.3 684.2,140.6 684.4,139.9 684.6,142.4 684.8,144.7 685,145.1 685.2,143.8 685.4,142.5 685.6,141.4 685.8,142.6 686,144.3 686.1,145.1 686.3,146.3 686.5,147.1 686.7,148.9 686.9,150.4 687,150.3" fill="none" stroke="#a36a22" stroke-opacity="0.75" stroke-width="1.1"/>
<polygon points="689.7,139.3 689.8,139.1 690,138.6 690.2,137.2 690.3,135.3 690.5,135.7 690.7,134.5 690.9,133.9 691.1,134.1 691.3,133.8 691.5,133.4 691.7,132.4 691.9,131.8 692.1,131.7 692.3,130.9 692.5,129.6 692.6,128.4 692.8,127.2 693,129.7 693.2,133.3 693.4,134.1 693.6,134.7 693.8,135 694,135.6 694.2,136.2 694.4,135.8 694.6,134.5 694.7,135.4 694.9,135.2 695.1,133.6 695.3,133.2 695.5,132.9 695.7,131.5 695.9,131 696.1,130.1 696.3,128.7 696.5,126.5 696.7,124.9 696.8,126 697,126.9 697.2,128.2 697.4,128.7 697.6,128.9 697.8,128.8 698,129 698.2,129.4 698.4,129.7 698.6,130.6 698.8,131.2 698.9,131.3 699.1,130.7 699.3,129.9 699.5,128.4 699.7,127.4 699.9,126.6 700.1,126.5 700.3,126.3 700.5,125.9 700.7,126.2 700.9,125.8 701,126.2 701.2,125.9 701.4,125.8 701.6,125.1 701.8,125.1 702,125.1 702.2,124.8 702.4,124.6 702.6,123.5 702.8,124.5 703,125.7 703.1,126.7 703.3,127.3 703.5,128.1 703.7,128.6 703.9,130.3 704.1,129.8 704.2,129.8 704.2,533.7 689.7,533.7" fill="#fddeb9"/>
<polyline points="689.7,139.3 689.8,139.1 690,138.6 690.2,137.2 690.3,135.3 690.5,135.7 690.7,134.5 690.9,133.9 691.1,134.1 691.3,133.8 691.5,133.4 691.7,132.4 691.9,131.8 692.1,131.7 692.3,130.9 692.5,129.6 692.6,128.4 692.8,127.2 693,129.7 693.2,133.3 693.4,134.1 693.6,134.7 693.8,135 694,135.6 694.2,136.2 694.4,135.8 694.6,134.5 694.7,135.4 694.9,135.2 695.1,133.6 695.3,133.2 695.5,132.9 695.7,131.5 695.9,131 696.1,130.1 696.3,128.7 696.5,126.5 696.7,124.9 696.8,126 697,126.9 697.2,128.2 697.4,128.7 697.6,128.9 697.8,128.8 698,129 698.2,129.4 698.4,129.7 698.6,130.6 698.8,131.2 698.9,131.3 699.1,130.7 699.3,129.9 699.5,128.4 699.7,127.4 699.9,126.6 700.1,126.5 700.3,126.3 700.5,125.9 700.7,126.2 700.9,125.8 701,126.2 701.2,125.9 701.4,125.8 701.6,125.1 701.8,125.1 702,125.1 702.2,124.8 702.4,124.6 702.6,123.5 702.8,124.5 703,125.7 703.1,126.7 703.3,127.3 703.5,128.1 703.7,128.6 703.9,130.3 704.1,129.8 704.2,129.8" fill="none" stroke="#a36a22" stroke-opacity="0.75" stroke-width="1.1"/>
<polygon points="252.9,317.8 253,317.1 253.2,316.6 253.4,316.3 253.6,317.5 253.8,317.3 254,315.4 254.2,315.4 254.4,316.3 254.4,316.3 254.4,533.7 252.9,533.7" fill="#bdd8fd"/>
<polyline points="252.9,317.8 253,317.1 253.2,316.6 253.4,316.3 253.6,317.5 253.8,317.3 254,315.4 254.2,315.4 254.4,316.3 254.4,316.3" fill="none" stroke="#2f5cab" stroke-opacity="0.75" stroke-width="1.1"/>
<polygon points="267,341.3 267.2,339.8 267.4,337.2 267.6,335.4 267.7,333.6 267.9,332.6 268.1,331.4 268.3,330.7 268.5,329.5 268.7,327.7 268.9,327.9 269.1,327.1 269.3,326.1 269.5,328 269.7,329.7 269.8,330.6 270,330.6 270.2,331.6 270.4,332.8 270.6,333.8 270.8,332.2 271,332 271.2,331.8 271.4,332.5 271.6,332.4 271.8,333 271.9,332.8 272.1,332.3 272.3,332.1 272.5,331.7 272.7,332.2 272.9,330.9 273.1,331.2 273.3,332.2 273.5,332 273.7,332.2 273.9,332.5 274,332.4 274.2,331.8 274.4,332.3 274.6,332 274.8,330.5 275,329.6 275.2,329.3 275.4,328.8 275.6,328.5 275.6,328.5 275.6,533.7 267,533.7" fill="#bdd8fd"/>
<polyline points="267,341.3 267.2,339.8 267.4,337.2 267.6,335.4 267.7,333.6 267.9,332.6 268.1,331.4 268.3,330.7 268.5,329.5 268.7,327.7 268.9,327.9 269.1,327.1 269.3,326.1 269.5,328 269.7,329.7 269.8,330.6 270,330.6 270.2,331.6 270.4,332.8 270.6,333.8 270.8,332.2 271,332 271.2,331.8 271.4,332.5 271.6,332.4 271.8,333 271.9,332.8 272.1,332.3 272.3,332.1 272.5,331.7 272.7,332.2 272.9,330.9 273.1,331.2 273.3,332.2 273.5,332 273.7,332.2 273.9,332.5 274,332.4 274.2,331.8 274.4,332.3 274.6,332 274.8,330.5 275,329.6 275.2,329.3 275.4,328.8 275.6,328.5 275.6,328.5" fill="none" stroke="#2f5cab" stroke-opacity="0.75" stroke-width="1.1"/>
<polygon points="536.1,224.7 536.2,225.5 536.4,227.5 536.6,226.5 536.8,224.2 537,223.8 537.2,224.7 537.4,225.9 537.6,226 537.8,227.6 538,229.6 538.2,230 538.3,231.1 538.5,232.1 538.7,232.1 538.9,233.2 539.1,233.9 539.3,234.2 539.5,234.4 539.7,235.2 539.9,234.8 540.1,233.6 540.3,234.4 540.4,231.4 540.6,231.3 540.8,228.7 541,227.3 541.2,225.6 541.4,225.5 541.6,225.6 541.8,226.2 542,226.1 542.2,225.6 542.4,225.3 542.5,226 542.7,226.9 542.9,227.9 543.1,229.3 543.3,228.5 543.5,227.7 543.7,227.3 543.9,227.3 544.1,227.8 544.3,226.5 544.5,225.6 544.6,227 544.8,227.4 545,228.9 545.2,229.5 545.4,230.2 545.6,230.7 545.8,230.7 546,230.7 546.2,230.4 546.4,231.1 546.6,230.5 546.7,230 546.9,230.3 547.1,230.2 547.3,230.9 547.5,231.2 547.7,232.2 547.9,232.4 548.1,232.5 548.3,232 548.5,231.8 548.7,231.6 548.8,231.6 549,231.5 549.2,231.5 549.4,231.2 549.6,232.1 549.8,231.5 550,232.1 550.2,232.2 550.4,232 550.6,232.1 550.8,229.5 550.9,229.5 551.1,228.5 551.3,227.8 551.5,228 551.7,227.7 551.9,226.9 552.1,227 552.3,226.9 552.5,227.1 552.7,227 552.9,227.1 553,226.9 553.2,226.2 553.4,225.4 553.6,225.2 553.8,228.2 554,227.6 554.2,227.7 554.4,228.2 554.6,227.5 554.8,228 555,227.4 555.1,227.8 555.3,226.8 555.5,227.2 555.5,533.7 536.1,533.7" fill="#bdd8fd"/>
<polyline points="536.1,224.7 536.2,225.5 536.4,227.5 536.6,226.5 536.8,224.2 537,223.8 537.2,224.7 537.4,225.9 537.6,226 537.8,227.6 538,229.6 538.2,230 538.3,231.1 538.5,232.1 538.7,232.1 538.9,233.2 539.1,233.9 539.3,234.2 539.5,234.4 539.7,235.2 539.9,234.8 540.1,233.6 540.3,234.4 540.4,231.4 540.6,231.3 540.8,228.7 541,227.3 541.2,225.6 541.4,225.5 541.6,225.6 541.8,226.2 542,226.1 542.2,225.6 542.4,225.3 542.5,226 542.7,226.9 542.9,227.9 543.1,229.3 543.3,228.5 543.5,227.7 543.7,227.3 543.9,227.3 544.1,227.8 544.3,226.5 544.5,225.6 544.6,227 544.8,227.4 545,228.9 545.2,229.5 545.4,230.2 545.6,230.7 545.8,230.7 546,230.7 546.2,230.4 546.4,231.1 546.6,230.5 546.7,230 546.9,230.3 547.1,230.2 547.3,230.9 547.5,231.2 547.7,232.2 547.9,232.4 548.1,232.5 548.3,232 548.5,231.8 548.7,231.6 548.8,231.6 549,231.5 549.2,231.5 549.4,231.2 549.6,232.1 549.8,231.5 550,232.1 550.2,232.2 550.4,232 550.6,232.1 550.8,229.5 550.9,229.5 551.1,228.5 551.3,227.8 551.5,228 551.7,227.7 551.9,226.9 552.1,227 552.3,226.9 552.5,227.1 552.7,227 552.9,227.1 553,226.9 553.2,226.2 553.4,225.4 553.6,225.2 553.8,228.2 554,227.6 554.2,227.7 554.4,228.2 554.6,227.5 554.8,228 555,227.4 555.1,227.8 555.3,226.8 555.5,227.2" fill="none" stroke="#2f5cab" stroke-opacity="0.75" stroke-width="1.1"/>
<polygon points="785.2,167.8 785.3,167.7 785.5,167.1 785.6,166.4 785.8,166.5 786,165.7 786.2,165.1 786.4,164.6 786.6,164.6 786.8,165.6 787,165.7 787.2,166.6 787.4,166.9 787.6,166.7 787.7,166.3 787.9,166 788.1,166 788.3,166.4 788.5,166.1 788.7,166.3 788.9,166.9 789.1,166.6 789.3,165.6 789.5,165.6 789.7,166 789.8,165 790,163.8 790.2,163.7 790.4,163.5 790.6,163.1 790.8,161.2 791,160.9 791.2,160.7 791.4,160.8 791.6,162.1 791.8,163.1 791.9,164.1 792.1,164.2 792.3,163 792.5,160.9 792.7,159.9 792.9,160 793,160.1 793,533.7 785.2,533.7" fill="#bdd8fd"/>
<polyline points="785.2,167.8 785.3,167.7 785.5,167.1 785.6,166.4 785.8,166.5 786,165.7 786.2,165.1 786.4,164.6 786.6,164.6 786.8,165.6 787,165.7 787.2,166.6 787.4,166.9 787.6,166.7 787.7,166.3 787.9,166 788.1,166 788.3,166.4 788.5,166.1 788.7,166.3 788.9,166.9 789.1,166.6 789.3,165.6 789.5,165.6 789.7,166 789.8,165 790,163.8 790.2,163.7 790.4,163.5 790.6,163.1 790.8,161.2 791,160.9 791.2,160.7 791.4,160.8 791.6,162.1 791.8,163.1 791.9,164.1 792.1,164.2 792.3,163 792.5,160.9 792.7,159.9 792.9,160 793,160.1" fill="none" stroke="#2f5cab" stroke-opacity="0.75" stroke-width="1.1"/>
<polygon points="799.2,168.2 799.2,168.2 799.4,168.6 799.6,168.7 799.8,168.8 800,168.7 800.2,168.7 800.3,167.6 800.5,165.8 800.7,165.5 800.8,165.1 800.8,533.7 799.2,533.7" fill="#bdd8fd"/>
<polyline points="799.2,168.2 799.2,168.2 799.4,168.6 799.6,168.7 799.8,168.8 800,168.7 800.2,168.7 800.3,167.6 800.5,165.8 800.7,165.5 800.8,165.1" fill="none" stroke="#2f5cab" stroke-opacity="0.75" stroke-width="1.1"/>
<polygon points="803.1,168.2 803.2,168.1 803.4,168.2 803.6,168.4 803.8,168 804,167.9 804.2,168.1 804.4,168.7 804.5,169 804.7,168.4 804.9,167.8 805.1,166.9 805.3,166.2 805.5,165.8 805.7,166.2 805.9,166.5 806,166.4 806,533.7 803.1,533.7" fill="#bdd8fd"/>
<polyline points="803.1,168.2 803.2,168.1 803.4,168.2 803.6,168.4 803.8,168 804,167.9 804.2,168.1 804.4,168.7 804.5,169 804.7,168.4 804.9,167.8 805.1,166.9 805.3,166.2 805.5,165.8 805.7,166.2 805.9,166.5 806,166.4" fill="none" stroke="#2f5cab" stroke-opacity="0.75" stroke-width="1.1"/>
<polygon points="813.3,174.6 813.3,174.7 813.5,175.2 813.7,174.4 813.9,174.2 814.1,175.4 814.3,175.2 814.5,175.9 814.7,175.1 814.9,174.2 815.1,174.2 815.2,173.2 815.4,173.4 815.6,172.6 815.8,172 816,171.7 816.2,172.2 816.4,172.1 816.6,173 816.8,172.9 817,173.6 817.2,172.5 817.3,172.7 817.5,173.6 817.7,172.9 817.8,172.7 817.8,533.7 813.3,533.7" fill="#bdd8fd"/>
<polyline points="813.3,174.6 813.3,174.7 813.5,175.2 813.7,174.4 813.9,174.2 814.1,175.4 814.3,175.2 814.5,175.9 814.7,175.1 814.9,174.2 815.1,174.2 815.2,173.2 815.4,173.4 815.6,172.6 815.8,172 816,171.7 816.2,172.2 816.4,172.1 816.6,173 816.8,172.9 817,173.6 817.2,172.5 817.3,172.7 817.5,173.6 817.7,172.9 817.8,172.7" fill="none" stroke="#2f5cab" stroke-opacity="0.75" stroke-width="1.1"/>
<polygon points="820.2,174.5 820.2,174.5 820.4,174.5 820.6,174 820.8,173.2 821,173 821.2,172.8 821.4,172.4 821.5,171.6 821.7,171.7 821.8,171.9 821.8,533.7 820.2,533.7" fill="#bdd8fd"/>
<polyline points="820.2,174.5 820.2,174.5 820.4,174.5 820.6,174 820.8,173.2 821,173 821.2,172.8 821.4,172.4 821.5,171.6 821.7,171.7 821.8,171.9" fill="none" stroke="#2f5cab" stroke-opacity="0.75" stroke-width="1.1"/>
<rect x="380.3" y="322.4" width="20" height="2.8" fill="#fddeb9"/>
<rect x="55" y="442.9" width="929" height="1" fill="#222"/>
<rect x="90.9" y="397.4" width="21.1" height="46.2" fill="#3cd695"/>
<rect x="116.4" y="397.4" width="38" height="46.2" fill="#3cd695"/>
<rect x="179.5" y="397.4" width="11.8" height="46.2" fill="#3cd695"/>
<rect x="192.8" y="397.4" width="5.1" height="46.2" fill="#3cd695"/>
<rect x="403.9" y="397.4" width="1" height="46.2" fill="#3cd695"/>
<rect x="413.1" y="397.4" width="5.1" height="46.2" fill="#3cd695"/>
<rect x="425.3" y="397.4" width="27.5" height="46.2" fill="#3cd695"/>
<rect x="455.2" y="397.4" width="21.4" height="46.2" fill="#3cd695"/>
<rect x="576.3" y="397.4" width="1.3" height="46.2" fill="#3cd695"/>
<rect x="673.4" y="397.4" width="34.8" height="46.2" fill="#3cd695"/>
<rect x="735.5" y="397.4" width="8.6" height="46.2" fill="#3cd695"/>
<rect x="902.2" y="397.4" width="9.7" height="46.2" fill="#3cd695"/>
<rect x="951.4" y="397.4" width="8.6" height="46.2" fill="#3cd695"/>
<rect x="964.1" y="397.4" width="2.3" height="46.2" fill="#3cd695"/>
<rect x="191.3" y="397.4" width="1.5" height="46.2" fill="#3cd695" fill-opacity="0.55"/>
<rect x="962.1" y="397.4" width="1.7" height="46.2" fill="#3cd695" fill-opacity="0.55"/>
<rect x="246.5" y="443.2" width="1.6" height="46.2" fill="#3cd695"/>
<rect x="263.9" y="443.2" width="11.9" height="46.2" fill="#3cd695"/>
<rect x="279.1" y="443.2" width="11.7" height="46.2" fill="#3cd695"/>
<rect x="291.6" y="443.2" width="3.3" height="46.2" fill="#3cd695"/>
<rect x="307.1" y="443.2" width="2.5" height="46.2" fill="#3cd695"/>
<rect x="534.5" y="443.2" width="23" height="46.2" fill="#3cd695"/>
<rect x="625.9" y="443.2" width="1.8" height="46.2" fill="#3cd695"/>
<rect x="782.9" y="443.2" width="9.6" height="46.2" fill="#3cd695"/>
<rect x="795.9" y="443.2" width="29" height="46.2" fill="#3cd695"/>
<rect x="137.6" y="408.7" width="10.5" height="34.9" fill="#fdbf45"/>
<rect x="187" y="408.7" width="3.9" height="34.9" fill="#fdbf45"/>
<rect x="467.5" y="408.7" width="6.9" height="34.9" fill="#fdbf45"/>
<rect x="679.9" y="408.7" width="23.9" height="34.9" fill="#fdbf45"/>
<rect x="902.8" y="408.7" width="21.6" height="34.9" fill="#fdbf45"/>
<rect x="953.3" y="408.7" width="10.8" height="34.9" fill="#fdbf45"/>
<rect x="964.7" y="408.7" width="2.2" height="34.9" fill="#fdbf45"/>
<rect x="246.5" y="443.2" width="29.3" height="34.9" fill="#fdbf45"/>
<rect x="506.7" y="443.2" width="4.7" height="34.9" fill="#fdbf45"/>
<rect x="534.7" y="443.2" width="20.5" height="34.9" fill="#fdbf45"/>
<rect x="783.2" y="443.2" width="9.8" height="34.9" fill="#fdbf45"/>
<rect x="812.2" y="443.2" width="14.5" height="34.9" fill="#fdbf45"/>
<rect x="92.2" y="420.1" width="17.6" height="23.5" fill="#2780fe"/>
<rect x="133" y="420.1" width="23.6" height="23.5" fill="#2780fe"/>
<rect x="179.9" y="420.1" width="19.1" height="23.5" fill="#2780fe"/>
<rect x="432" y="420.1" width="3.4" height="23.5" fill="#2780fe"/>
<rect x="444" y="420.1" width="9" height="23.5" fill="#2780fe"/>
<rect x="458" y="420.1" width="20" height="23.5" fill="#2780fe"/>
<rect x="682.8" y="420.1" width="3.8" height="23.5" fill="#2780fe"/>
<rect x="689" y="420.1" width="14.2" height="23.5" fill="#2780fe"/>
<rect x="705.2" y="420.1" width="3.3" height="23.5" fill="#2780fe"/>
<rect x="243.9" y="443.2" width="48" height="23.5" fill="#2780fe"/>
<rect x="527.2" y="443.2" width="1.7" height="23.5" fill="#2780fe"/>
<rect x="531.9" y="443.2" width="24.3" height="23.5" fill="#2780fe"/>
<rect x="626.4" y="443.2" width="3.6" height="23.5" fill="#2780fe"/>
<rect x="637.8" y="443.2" width="5.1" height="23.5" fill="#2780fe"/>
<rect x="644" y="443.2" width="4.1" height="23.5" fill="#2780fe"/>
<rect x="649.8" y="443.2" width="2.9" height="23.5" fill="#2780fe"/>
<rect x="715.9" y="443.2" width="1.7" height="23.5" fill="#2780fe"/>
<rect x="778.3" y="443.2" width="1.8" height="23.5" fill="#2780fe"/>
<rect x="783.2" y="443.2" width="34.9" height="23.5" fill="#2780fe"/>
<rect x="818.8" y="443.2" width="3.3" height="23.5" fill="#2780fe"/>
<rect x="55.2" y="431.4" width="3" height="12.2" fill="#f5476f"/>
<polygon points="83,443.6 83.6,431.4 154,431.4 154.6,443.6" fill="#f5476f"/>
<rect x="185.3" y="431.4" width="6.5" height="12.2" fill="#f5476f"/>
<rect x="364.5" y="431.4" width="2.5" height="12.2" fill="#f5476f"/>
<polygon points="426,443.6 428.6,431.4 478.2,431.4 480.2,443.6" fill="#f5476f"/>
<polygon points="679,443.6 680.6,431.4 706.1,431.4 707.5,443.6" fill="#f5476f"/>
<rect x="904.3" y="431.4" width="2.9" height="12.2" fill="#f5476f"/>
<rect x="907.9" y="431.4" width="3.7" height="12.2" fill="#f5476f"/>
<rect x="243.8" y="443.2" width="10.8" height="12.2" fill="#f5476f"/>
<rect x="266.2" y="443.2" width="1.3" height="12.2" fill="#f5476f"/>
<rect x="504" y="443.2" width="7.6" height="12.2" fill="#f5476f"/>
<rect x="513.3" y="443.2" width="42.9" height="12.2" fill="#f5476f"/>
<rect x="783.2" y="443.2" width="25.6" height="12.2" fill="#f5476f"/>
<rect x="811.4" y="443.2" width="3.6" height="12.2" fill="#f5476f"/>
<rect x="55.2" y="442.9" width="912" height="1" fill="#f5476f"/>
<polyline id="cond" points="55.3,446.5 55.7,443.8 56.4,440.7 57.8,440.4 58.8,442.3 60.9,443.4 83.1,443.4 84.7,438.6 86.2,434.5 88.3,432.4 91.4,431.9 93,425.2 95,415.9 97.6,410.7 101.7,409.5 107.4,409.4 109.5,411.7 111.1,417.9 112.6,426.2 114.7,430.9 116.8,431.6 118.3,425.7 120.4,421.6 124.5,420.5 133.1,420.5 134.3,415.9 135.9,411.7 137.6,409.7 139,403.5 140.5,399.3 143.1,398.1 144,399 144.9,401.9 145.9,399.3 147,398.8 148,403.5 149,409.1 150.7,412.3 152.1,410.2 153.2,409.7 154.3,416.9 155.5,429.3 157.1,438.6 158.6,441.7 161.2,443.3 179.9,443.4 181.1,432.4 181.9,431.4 183.5,428.3 185,424.2 186.6,416.9 188.1,406.6 189.4,401.4 190.4,405.5 191.8,414.8 192.8,422.1 194.1,427.8 195.4,424.2 196.4,422.9 197.4,427.3 198.7,434.5 200,439.7 202.1,442.6 205,443.4 243.7,443.4 245,445.3 246.1,455.7 247.1,468.1 248.1,473.3 249.2,470.7 250.4,468.6 251.5,473.3 253.5,475.9 254.6,470.2 255.8,462.9 257.1,460.4 259.2,458.3 260.3,461.4 262.3,464.5 264.4,466 265.9,471.2 267.5,475.4 270.1,476.4 273.2,477.2 275.3,477.2 276.3,469.2 277.3,457.8 278.7,450.5 279.9,449.5 281.3,453.6 282.3,451 283.5,458.8 285.1,462.4 287.2,464 288.7,455.7 290.3,450.5 291.3,449.5 292.5,445.9 293.4,448.5 294.4,451.6 295.4,449.5 297,444.8 299.1,443.5 306.3,443.4 308.9,444.6 311.5,443.4 364.1,443.4 365,440 366,436.4 367,439 367.9,441 370.8,442.6 374,443.4 403.5,443.4 404.6,441.6 405.8,443 408,443.4 413.3,443.4 414.5,438.6 416.2,435 417.4,436.6 419,440.7 421,442.8 425.7,443.4 427.3,435.5 429,426.2 430.7,423.1 432.4,420.5 434.5,412.3 436,417.4 438.1,419.5 440.2,421 441.7,430.9 443.3,424.2 445.4,420.5 447.4,414.8 448,413.8 449.3,416.9 450.5,412.3 452.1,410.7 453.1,417.9 454.7,428.3 456.2,428.8 457.8,425.2 459.3,417.9 460.7,412.8 461.7,414.3 463,412.3 464.5,415.9 466.1,411.7 468.1,408.6 469.7,401.4 471.2,398.8 472.8,398.1 473.8,400.3 475.4,406.6 476.7,415.9 478,424.2 479.5,433.5 481.1,439.7 482.6,442.3 485,443.4 504.1,443.4 505.3,446.4 506.9,453.6 508.5,459.8 510.5,463.5 511.4,457.8 512.4,447.4 513.6,445.3 514.9,450.5 516.7,453.1 519.8,454.1 526,454.5 528.1,455.5 529.7,454.5 532.3,454.5 533.5,456.7 534.8,465 536.4,476.4 537.9,483.6 540,487.3 542.6,488.5 551.4,488.5 553,485.7 554.5,480.5 555.9,471.2 557.1,458.8 558.3,449.5 560.2,444.8 562.8,443.4 575.8,443.4 576.9,441.8 578.2,443.2 580,443.4 625.7,443.4 627.1,447.4 628.5,452.1 630,446.4 631.6,443.8 634.2,443.4 637.8,443.4 639.3,448.5 640.9,452.6 641.9,454.1 643.5,448.5 644.3,445.3 645.5,450.5 647.1,453.1 648.6,448.5 649.9,445.3 651.2,449.5 652.3,451.4 653.8,446.4 655.9,443.8 658,443.4 673.7,443.4 675,438.6 676.3,435.5 677.3,436.1 678.3,434.5 679.6,433.5 680.6,424.2 682,415.9 683.5,408.6 684.6,403.5 685.8,401.9 686.8,405.5 688.2,408.1 689.2,408.6 690.3,403.5 691.6,400.3 693.4,398.8 694.4,399.8 695.9,398.5 698.5,397.9 700.6,398.3 702.2,399.8 703.2,402.4 704.2,410.7 705.3,420 707.1,421 708.2,426.2 709.4,434.5 710.9,440.2 713,442.6 715.6,443.4 716.8,444.2 718.2,443.4 735.5,443.4 736.8,439.7 738.4,434.5 739.9,432.6 742.5,431.9 743.6,433.5 744.8,438.6 746.1,441.7 748,443.2 750,443.4 778.1,443.4 779.5,446.9 780.9,444.3 782.4,443.8 783.5,450.5 784.5,466 785.7,478.5 787.1,484.7 788.6,487.3 790.2,488.3 791.2,483.6 792.3,481.6 793.6,472.3 794.8,462.9 795.9,460.4 797.1,466 798.5,471.7 800,474.8 800.8,468.1 802.1,473.3 803.6,475.9 805.4,476.9 806.7,471.7 808.3,472.8 809.8,467.1 810.9,460.9 811.9,456.2 813,468.1 814.5,480 816.1,479 817.6,476.4 819.2,470.7 820.5,474.8 821.7,473.8 823.3,469.2 824.6,466 825.9,458.8 827.1,450.5 828.5,445.9 830,444.1 832.1,443.4 902.5,443.4 903.8,431.4 905,420 906.1,415.4 906.9,420 907.6,423.1 908.5,418.5 909.5,419 910.5,424.7 911.6,425.7 912.8,429.3 914.7,431.4 917.3,431.9 923.5,431.9 924.5,435.5 925.5,439.7 927.1,441.7 929.7,443.2 932,443.4 951.7,443.4 953,438.6 954.5,429.3 956.1,423.1 957.6,421 959.4,420.7 960.4,425.2 961.8,428.8 963.3,430.4 964.3,435.5 965.4,437.6 966.9,438.3" fill="none" stroke="#000" stroke-width="1.6" stroke-linejoin="round" stroke-linecap="butt"/>
<text x="401.7" y="319.4" font-family="'Liberation Sans', sans-serif" font-weight="bold" font-size="41" textLength="258.6" lengthAdjust="spacingAndGlyphs" fill="#000" stroke="#000" stroke-width="0.7" opacity="0.13">checkonchain</text>
<text x="318.7" y="40.2" font-family="'DejaVu Sans', 'Liberation Sans', sans-serif" font-weight="bold" font-size="22" textLength="402.2" lengthAdjust="spacingAndGlyphs" fill="#2a2a2a" stroke="#2a2a2a" stroke-width="0.3">Bitcoin Cycle Extreme Oscillators</text>
<g stroke="#2a2a2a" stroke-width="0.2" stroke-opacity="0.6">
<rect x="69.7" y="42.8" width="58.6" height="22.3" rx="2" fill="#fff" stroke="#f6f6f6" stroke-width="1"/>
<text x="77.8" y="56.6" font-family="'DejaVu Sans', 'Liberation Sans', sans-serif" font-size="8" textLength="30" lengthAdjust="spacingAndGlyphs" fill="#2a2a2a">Info On</text>
<text x="117.9" y="55.1" font-family="'DejaVu Sans', 'Liberation Sans', sans-serif" font-size="7.6" fill="#2a2a2a">▼</text>
<rect x="914.6" y="42.8" width="86.6" height="22.3" rx="2" fill="#fff" stroke="#f6f6f6" stroke-width="1"/>
<text x="923" y="56.7" font-family="'DejaVu Sans', 'Liberation Sans', sans-serif" font-size="8" fill="#2a2a2a">Default Zoom</text>
<text x="991.2" y="55.2" font-family="'DejaVu Sans', 'Liberation Sans', sans-serif" font-size="7.6" fill="#2a2a2a">▼</text>
<rect x="108.8" y="69.6" width="19.9" height="1.6" fill="#7a7a7a" stroke="none"/>
<text x="132.7" y="74.2" font-family="'DejaVu Sans', 'Liberation Sans', sans-serif" font-size="11" textLength="26.3" lengthAdjust="spacingAndGlyphs" fill="#2a2a2a">Price</text>
<rect x="165.7" y="68.3" width="20.1" height="4.2" fill="#fddeb9" stroke="none"/>
<text x="189.8" y="74.2" font-family="'DejaVu Sans', 'Liberation Sans', sans-serif" font-size="11" textLength="130.7" lengthAdjust="spacingAndGlyphs" fill="#2a2a2a">Cycle Top Signal &gt; 0.85</text>
<rect x="328.1" y="68.3" width="20" height="4.2" fill="#bdd8fd" stroke="none"/>
<text x="351.7" y="74.2" font-family="'DejaVu Sans', 'Liberation Sans', sans-serif" font-size="11" textLength="139.5" lengthAdjust="spacingAndGlyphs" fill="#2a2a2a">Cycle Low Signal &lt; -0.70</text>
<rect x="497.3" y="68.3" width="20.6" height="4.2" fill="#3cd695" stroke="none"/>
<text x="521.7" y="74.2" font-family="'DejaVu Sans', 'Liberation Sans', sans-serif" font-size="11" textLength="31.6" lengthAdjust="spacingAndGlyphs" fill="#2a2a2a">MVRV</text>
<rect x="559.4" y="68.3" width="20.7" height="4.2" fill="#fdbf45" stroke="none"/>
<text x="584" y="74.2" font-family="'DejaVu Sans', 'Liberation Sans', sans-serif" font-size="11" textLength="30.3" lengthAdjust="spacingAndGlyphs" fill="#2a2a2a">SOPR</text>
<rect x="620.2" y="68.3" width="20.7" height="4.2" fill="#2780fe" stroke="none"/>
<text x="644.9" y="74.2" font-family="'DejaVu Sans', 'Liberation Sans', sans-serif" font-size="11" textLength="72" lengthAdjust="spacingAndGlyphs" fill="#2a2a2a">Puell Multiple</text>
<rect x="724.2" y="68.3" width="20.5" height="4.2" fill="#f5476f" stroke="none"/>
<text x="748.2" y="74.2" font-family="'DejaVu Sans', 'Liberation Sans', sans-serif" font-size="11" textLength="69.3" lengthAdjust="spacingAndGlyphs" fill="#2a2a2a">Reserve Risk</text>
<rect x="825.1" y="69.4" width="18.9" height="2" fill="#111" stroke="none"/>
<text x="848.8" y="74.2" font-family="'DejaVu Sans', 'Liberation Sans', sans-serif" font-size="11" textLength="80.4" lengthAdjust="spacingAndGlyphs" fill="#2a2a2a">Condition Sum</text>
<text x="55" y="549.7" text-anchor="middle" font-family="'DejaVu Sans', 'Liberation Sans', sans-serif" font-size="10" textLength="49.8" lengthAdjust="spacingAndGlyphs" fill="#2a2a2a">01-Jan-12</text>
<text x="194.6" y="549.7" text-anchor="middle" font-family="'DejaVu Sans', 'Liberation Sans', sans-serif" font-size="10" textLength="49.8" lengthAdjust="spacingAndGlyphs" fill="#2a2a2a">01-Jan-14</text>
<text x="334" y="549.7" text-anchor="middle" font-family="'DejaVu Sans', 'Liberation Sans', sans-serif" font-size="10" textLength="49.8" lengthAdjust="spacingAndGlyphs" fill="#2a2a2a">01-Jan-16</text>
<text x="473.6" y="549.7" text-anchor="middle" font-family="'DejaVu Sans', 'Liberation Sans', sans-serif" font-size="10" textLength="49.8" lengthAdjust="spacingAndGlyphs" fill="#2a2a2a">01-Jan-18</text>
<text x="613" y="549.7" text-anchor="middle" font-family="'DejaVu Sans', 'Liberation Sans', sans-serif" font-size="10" textLength="49.8" lengthAdjust="spacingAndGlyphs" fill="#2a2a2a">01-Jan-20</text>
<text x="752.6" y="549.7" text-anchor="middle" font-family="'DejaVu Sans', 'Liberation Sans', sans-serif" font-size="10" textLength="49.8" lengthAdjust="spacingAndGlyphs" fill="#2a2a2a">01-Jan-22</text>
<text x="892" y="549.7" text-anchor="middle" font-family="'DejaVu Sans', 'Liberation Sans', sans-serif" font-size="10" textLength="49.8" lengthAdjust="spacingAndGlyphs" fill="#2a2a2a">01-Jan-24</text>
<text x="48.6" y="537.5" text-anchor="end" font-family="'DejaVu Sans', 'Liberation Sans', sans-serif" font-size="10" fill="#2a2a2a">1</text>
<text x="48.9" y="511" text-anchor="end" font-family="'DejaVu Sans', 'Liberation Sans', sans-serif" font-size="7.7" fill="#2a2a2a">2</text>
<text x="48.9" y="477" text-anchor="end" font-family="'DejaVu Sans', 'Liberation Sans', sans-serif" font-size="7.7" fill="#2a2a2a">5</text>
<text x="48.6" y="452.1" text-anchor="end" font-family="'DejaVu Sans', 'Liberation Sans', sans-serif" font-size="10" fill="#2a2a2a">10</text>
<text x="48.9" y="425.6" text-anchor="end" font-family="'DejaVu Sans', 'Liberation Sans', sans-serif" font-size="7.7" fill="#2a2a2a">2</text>
<text x="48.9" y="391.6" text-anchor="end" font-family="'DejaVu Sans', 'Liberation Sans', sans-serif" font-size="7.7" fill="#2a2a2a">5</text>
<text x="48.6" y="366.7" text-anchor="end" font-family="'DejaVu Sans', 'Liberation Sans', sans-serif" font-size="10" fill="#2a2a2a">100</text>
<text x="48.9" y="340.2" text-anchor="end" font-family="'DejaVu Sans', 'Liberation Sans', sans-serif" font-size="7.7" fill="#2a2a2a">2</text>
<text x="48.9" y="306.2" text-anchor="end" font-family="'DejaVu Sans', 'Liberation Sans', sans-serif" font-size="7.7" fill="#2a2a2a">5</text>
<text x="48.6" y="281.3" text-anchor="end" font-family="'DejaVu Sans', 'Liberation Sans', sans-serif" font-size="10" fill="#2a2a2a">1000</text>
<text x="48.9" y="254.8" text-anchor="end" font-family="'DejaVu Sans', 'Liberation Sans', sans-serif" font-size="7.7" fill="#2a2a2a">2</text>
<text x="48.9" y="220.8" text-anchor="end" font-family="'DejaVu Sans', 'Liberation Sans', sans-serif" font-size="7.7" fill="#2a2a2a">5</text>
<text x="48.6" y="195.9" text-anchor="end" font-family="'DejaVu Sans', 'Liberation Sans', sans-serif" font-size="10" fill="#2a2a2a">10k</text>
<text x="48.9" y="169.4" text-anchor="end" font-family="'DejaVu Sans', 'Liberation Sans', sans-serif" font-size="7.7" fill="#2a2a2a">2</text>
<text x="48.9" y="135.4" text-anchor="end" font-family="'DejaVu Sans', 'Liberation Sans', sans-serif" font-size="7.7" fill="#2a2a2a">5</text>
<text x="48.6" y="110.5" text-anchor="end" font-family="'DejaVu Sans', 'Liberation Sans', sans-serif" font-size="10" fill="#2a2a2a">100k</text>
<text x="48.9" y="84" text-anchor="end" font-family="'DejaVu Sans', 'Liberation Sans', sans-serif" font-size="7.7" fill="#2a2a2a">2</text>
<text x="986.6" y="84.8" font-family="'DejaVu Sans', 'Liberation Sans', sans-serif" font-size="10" fill="#2a2a2a">8</text>
<text x="986.6" y="175.4" font-family="'DejaVu Sans', 'Liberation Sans', sans-serif" font-size="10" fill="#2a2a2a">6</text>
<text x="986.6" y="266" font-family="'DejaVu Sans', 'Liberation Sans', sans-serif" font-size="10" fill="#2a2a2a">4</text>
<text x="986.6" y="356.6" font-family="'DejaVu Sans', 'Liberation Sans', sans-serif" font-size="10" fill="#2a2a2a">2</text>
<text x="986.6" y="447.2" font-family="'DejaVu Sans', 'Liberation Sans', sans-serif" font-size="10" fill="#2a2a2a">0</text>
<text x="986.6" y="537.8" font-family="'DejaVu Sans', 'Liberation Sans', sans-serif" font-size="10" fill="#2a2a2a">−2</text>
<text transform="translate(18.3,342.9) rotate(-90)" font-family="'DejaVu Sans', 'Liberation Sans', sans-serif" font-size="12.9" textLength="70.6" lengthAdjust="spacingAndGlyphs" fill="#2a2a2a">Price [USD]</text>
<text transform="translate(1015,384.6) rotate(-90)" font-family="'DejaVu Sans', 'Liberation Sans', sans-serif" font-size="12.2" textLength="155.8" lengthAdjust="spacingAndGlyphs" fill="#2a2a2a">Cycle Extreme Oscillators</text>
</g>
<text x="58.5" y="530.8" font-family="'DejaVu Sans', 'Liberation Sans', sans-serif" font-size="8.15" textLength="196.3" lengthAdjust="spacingAndGlyphs" fill="#6e6e6e">Source: checkonchain.com, ResearchBitcoin.net</text>
</svg>
</body></html>
